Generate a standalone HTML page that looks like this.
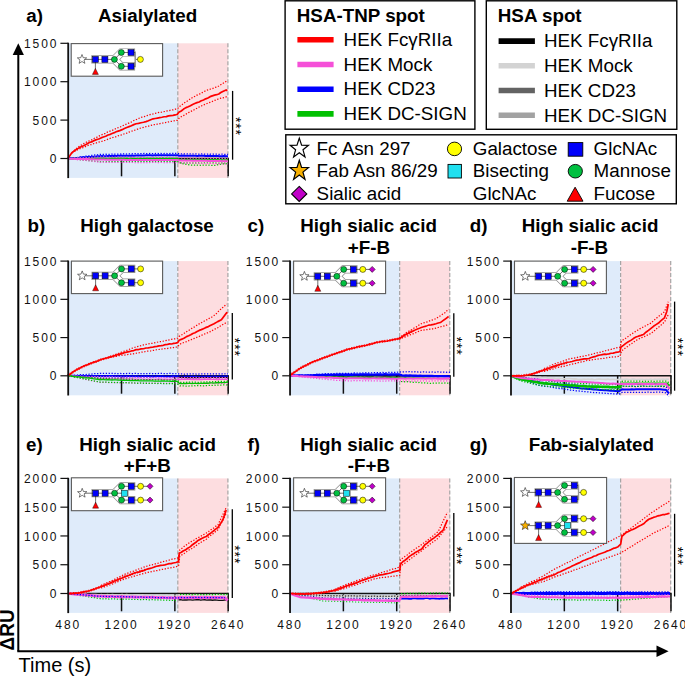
<!DOCTYPE html>
<html><head><meta charset="utf-8"><title>Figure</title>
<style>html,body{margin:0;padding:0;background:#fff;width:685px;height:676px;overflow:hidden}svg{display:block;font-family:"Liberation Sans",sans-serif}</style>
</head><body>
<svg width="685" height="676" viewBox="0 0 685 676" font-family="Liberation Sans, sans-serif"><rect width="685" height="676" fill="#fff"/>
<rect x="285.1" y="0.8" width="189.8" height="128.4" fill="none" stroke="#000" stroke-width="1.4"/>
<rect x="486.3" y="0.8" width="190.5" height="128.5" fill="none" stroke="#000" stroke-width="1.4"/>
<rect x="285.8" y="134.8" width="390.5" height="69" fill="none" stroke="#000" stroke-width="1.4"/>
<text transform="translate(296.8,21.9)" font-size="18.8" font-weight="bold">HSA-TNP spot</text>
<text transform="translate(497.8,21.9)" font-size="18.8" font-weight="bold">HSA spot</text>
<line x1="297.4" y1="39.8" x2="333.6" y2="39.8" stroke="#ff0000" stroke-width="5.6"/>
<text transform="translate(343.6,46)" font-size="18.8">HEK FcγRIIa</text>
<line x1="498.6" y1="41.1" x2="534.9" y2="41.1" stroke="#000" stroke-width="5.6"/>
<text transform="translate(544,47.4)" font-size="18.8">HEK FcγRIIa</text>
<line x1="297.4" y1="64.5" x2="333.6" y2="64.5" stroke="#f550d8" stroke-width="5.6"/>
<text transform="translate(343.6,70.7)" font-size="18.8">HEK Mock</text>
<line x1="498.6" y1="65.8" x2="534.9" y2="65.8" stroke="#d3d3d3" stroke-width="5.6"/>
<text transform="translate(544,72.1)" font-size="18.8">HEK Mock</text>
<line x1="297.4" y1="89.2" x2="333.6" y2="89.2" stroke="#0000ff" stroke-width="5.6"/>
<text transform="translate(343.6,95.4)" font-size="18.8">HEK CD23</text>
<line x1="498.6" y1="90.5" x2="534.9" y2="90.5" stroke="#636363" stroke-width="5.6"/>
<text transform="translate(544,96.8)" font-size="18.8">HEK CD23</text>
<line x1="297.4" y1="113.9" x2="333.6" y2="113.9" stroke="#00c000" stroke-width="5.6"/>
<text transform="translate(343.6,120.1)" font-size="18.8">HEK DC-SIGN</text>
<line x1="498.6" y1="115.2" x2="534.9" y2="115.2" stroke="#a2a2a2" stroke-width="5.6"/>
<text transform="translate(544,121.5)" font-size="18.8">HEK DC-SIGN</text>
<polygon points="299.3,138.1 301.6,145.1 308.5,145.29 303.01,149.8 304.99,156.91 299.3,152.7 293.61,156.91 295.59,149.8 290.1,145.29 297,145.1" fill="#fff" stroke="#000" stroke-width="1.2"/>
<polygon points="299.3,160.2 301.57,167.4 308.57,167.52 302.97,172.1 305.03,179.38 299.3,175 293.57,179.38 295.63,172.1 290.03,167.52 297.03,167.4" fill="#f8b000" stroke="#000" stroke-width="1.2"/>
<polygon points="299.2,186.4 306.8,193.9 299.2,201.4 291.6,193.9" fill="#c000c8" stroke="#000" stroke-width="1.1"/>
<text transform="translate(316.6,155.4)" font-size="18.8">Fc Asn 297</text>
<text transform="translate(316.6,177.3)" font-size="18.8">Fab Asn 86/29</text>
<text transform="translate(316.6,199.9)" font-size="18.8">Sialic acid</text>
<ellipse cx="454.5" cy="148.9" rx="7.1" ry="6.8" fill="#ffff00" stroke="#000" stroke-width="0.9"/>
<rect x="448" y="164.4" width="13.4" height="13.6" fill="#20e0f0" stroke="#000" stroke-width="0.9"/>
<text transform="translate(472.8,155)" font-size="18.8">Galactose</text>
<text transform="translate(472.8,176.6)" font-size="18.8">Bisecting</text>
<text transform="translate(472.8,199.6)" font-size="18.8">GlcNAc</text>
<rect x="568.2" y="142.6" width="14.6" height="13.6" fill="#0000fa" stroke="#000" stroke-width="0.9"/>
<ellipse cx="575.3" cy="171.2" rx="7.1" ry="6.8" fill="#00c040" stroke="#000" stroke-width="0.9"/>
<polygon points="575.1,187.2 583,201.2 567.2,201.2" fill="#ff0000" stroke="#000" stroke-width="0.9"/>
<text transform="translate(593.6,155)" font-size="18.8">GlcNAc</text>
<text transform="translate(593.6,176.6)" font-size="18.8">Mannose</text>
<text transform="translate(593.6,199.6)" font-size="18.8">Fucose</text>
<line x1="18.3" y1="52" x2="18.3" y2="651.3" stroke="#000" stroke-width="2"/>
<polygon points="12.7,55 18.3,43.3 23.9,55" fill="#000"/>
<line x1="17.3" y1="651.2" x2="658" y2="651.2" stroke="#000" stroke-width="2"/>
<polygon points="656.5,645.4 668.6,651.2 656.5,657" fill="#000"/>
<text transform="translate(14.1,650.4) scale(1.045,1) rotate(-90)" font-size="19" font-weight="bold">ΔRU</text>
<text transform="translate(18.6,671.6)" font-size="20">Time (s)</text>
<text transform="translate(26.3,21.6)" font-size="18.8" font-weight="bold">a)</text>
<text transform="translate(147.6,21.6)" font-size="18.8" font-weight="bold" text-anchor="middle">Asialylated</text>
<text transform="translate(27.6,231.8)" font-size="18.8" font-weight="bold">b)</text>
<text transform="translate(147,231.8)" font-size="18.8" font-weight="bold" text-anchor="middle">High galactose</text>
<text transform="translate(247.6,231.8)" font-size="18.8" font-weight="bold">c)</text>
<text transform="translate(368.6,231.8)" font-size="18.8" font-weight="bold" text-anchor="middle">High sialic acid</text>
<text transform="translate(368.9,254)" font-size="18.8" font-weight="bold" text-anchor="middle">+F-B</text>
<text transform="translate(469.8,231.8)" font-size="18.8" font-weight="bold">d)</text>
<text transform="translate(590,231.8)" font-size="18.8" font-weight="bold" text-anchor="middle">High sialic acid</text>
<text transform="translate(589.4,254)" font-size="18.8" font-weight="bold" text-anchor="middle">-F-B</text>
<text transform="translate(26,450.7)" font-size="18.8" font-weight="bold">e)</text>
<text transform="translate(147.6,450.7)" font-size="18.8" font-weight="bold" text-anchor="middle">High sialic acid</text>
<text transform="translate(147.3,472.4)" font-size="18.8" font-weight="bold" text-anchor="middle">+F+B</text>
<text transform="translate(247.6,450.7)" font-size="18.8" font-weight="bold">f)</text>
<text transform="translate(368.6,450.7)" font-size="18.8" font-weight="bold" text-anchor="middle">High sialic acid</text>
<text transform="translate(368.9,472.4)" font-size="18.8" font-weight="bold" text-anchor="middle">-F+B</text>
<text transform="translate(469.8,450.7)" font-size="18.8" font-weight="bold">g)</text>
<text transform="translate(591.3,450.7)" font-size="18.8" font-weight="bold" text-anchor="middle">Fab-sialylated</text>
<rect x="69" y="43.3" width="108.8" height="134.6" fill="#dfebfa" stroke="none" stroke-width="1"/>
<rect x="177.8" y="43.3" width="50.4" height="134.6" fill="#fddde0" stroke="none" stroke-width="1"/>
<line x1="177.8" y1="43.3" x2="177.8" y2="177.9" stroke="#a6a6a6" stroke-width="1.2" stroke-dasharray="4 2"/>
<line x1="227.9" y1="43.3" x2="227.9" y2="177.9" stroke="#a6a6a6" stroke-width="1.2" stroke-dasharray="4 2"/>
<line x1="68.2" y1="158.5" x2="228.8" y2="158.5" stroke="#111" stroke-width="1.4"/>
<line x1="121.53" y1="158.5" x2="121.53" y2="176.3" stroke="#111" stroke-width="1.5"/>
<line x1="174.86" y1="158.5" x2="174.86" y2="176.3" stroke="#111" stroke-width="1.5"/>
<line x1="228.19" y1="158.5" x2="228.19" y2="176.3" stroke="#111" stroke-width="1.5"/>
<polyline points="68.2,158.5 70.32,158.27 72.44,158.21 74.56,158 76.68,157.92 78.8,157.77 80.92,157.45 83.04,157.28 85.16,157.37 87.28,157.05 89.4,156.89 91.52,156.96 93.64,156.65 95.76,156.61 97.88,156.35 100,156.24 102,156.06 104,156.16 106,156.19 108,156.05 110,156.07 112,156.01 114,155.79 116,155.96 118,155.87 120,155.74 122,155.62 124,155.83 126,155.67 128,155.71 130,155.71 132,155.62 134,155.65 136,155.45 138,155.53 140,155.38 142.09,155.52 144.18,155.49 146.27,155.25 148.36,155.25 150.44,155.26 152.53,155.47 154.62,155.3 156.71,155.35 158.8,155.24 160.89,155.29 162.98,155.24 165.07,155.22 167.16,155.28 169.24,155.27 171.33,155.35 173.42,155.28 175.51,155.34 177.6,155.31 179,155.75 181.04,155.68 183.08,155.55 185.12,155.78 187.17,155.84 189.21,155.85 191.25,155.77 193.29,155.84 195.33,155.71 197.38,155.92 199.42,155.87 201.46,155.81 203.5,155.77 205.54,156.03 207.58,156.1 209.62,155.85 211.67,156.09 213.71,156 215.75,155.95 217.79,156.01 219.83,156.18 221.88,156.24 223.92,156.01 225.96,156.21 228,156.2" fill="none" stroke="#0000ff" stroke-width="2" stroke-linejoin="round"/>
<polyline points="68.2,158.5 70.32,158.09 72.44,158.02 74.56,157.63 76.68,157.52 78.8,157.28 80.92,156.86 83.04,156.74 85.16,156.26 87.28,155.91 89.4,155.8 91.52,155.35 93.64,155.13 95.76,154.92 97.88,154.71 100,154.3 102,154.22 104,154.43 106,154.22 108,154.38 110,154.32 112,154.12 114,154.11 116,154.09 118,154.08 120,154.03 122,153.98 124,153.96 126,154.01 128,153.84 130,153.78 132,153.83 134,153.64 136,153.62 138,153.78 140,153.61 142.09,153.6 144.18,153.43 146.27,153.54 148.36,153.58 150.44,153.4 152.53,153.57 154.62,153.56 156.71,153.38 158.8,153.54 160.89,153.48 162.98,153.53 165.07,153.42 167.16,153.52 169.24,153.52 171.33,153.29 173.42,153.29 175.51,153.46 177.6,153.54 179,153.73 181.04,153.81 183.08,153.88 185.12,153.82 187.17,153.86 189.21,153.87 191.25,153.91 193.29,154 195.33,153.94 197.38,153.99 199.42,154.13 201.46,153.93 203.5,154.12 205.54,154.2 207.58,154.09 209.62,154.09 211.67,154.29 213.71,154.15 215.75,154.16 217.79,154.26 219.83,154.36 221.88,154.21 223.92,154.3 225.96,154.33 228,154.4" fill="none" stroke="#0000ff" stroke-width="1.25" stroke-dasharray="1.3 1.6" stroke-linejoin="round" stroke-linecap="butt"/>
<polyline points="68.2,158.5 70.32,158.61 72.44,158.49 74.56,158.63 76.68,158.43 78.8,158.48 80.92,158.59 83.04,158.66 85.16,158.54 87.28,158.48 89.4,158.45 91.52,158.58 93.64,158.49 95.76,158.68 97.88,158.69 100,158.51 102,158.52 104,158.67 106,158.61 108,158.65 110,158.5 112,158.43 114,158.47 116,158.61 118,158.44 120,158.45 122,158.47 124,158.46 126,158.44 128,158.59 130,158.35 132,158.29 134,158.56 136,158.53 138,158.56 140,158.38 142.06,158.54 144.11,158.53 146.17,158.32 148.22,158.47 150.28,158.5 152.33,158.45 154.39,158.41 156.44,158.34 158.5,158.35 160.56,158.32 162.61,158.27 164.67,158.43 166.72,158.34 168.78,158.49 170.83,158.26 172.89,158.52 174.94,158.46 177,158.53 180,159.92 182,159.93 184,159.84 186,159.68 188,159.91 190,159.74 192,159.79 194,159.91 196,159.87 198,159.85 200,160.02 202,159.93 204,159.85 206,159.83 208,160.03 210,159.92 212,160.02 214,159.9 216,159.86 218,159.97 220,160.06 222,159.88 224,160.07 226,160.12 228,160" fill="none" stroke="#00c000" stroke-width="1.3" stroke-linejoin="round"/>
<polyline points="68.2,158.5 70.32,158.54 72.44,158.49 74.56,158.19 76.68,158.33 78.8,158.34 80.92,158.04 83.04,158.06 85.16,158 87.28,158.03 89.4,157.94 91.52,157.91 93.64,157.94 95.76,157.66 97.88,157.62 100,157.59 102,157.58 104,157.55 106,157.81 108,157.77 110,157.53 112,157.64 114,157.57 116,157.56 118,157.57 120,157.64 122,157.62 124,157.54 126,157.48 128,157.51 130,157.44 132,157.56 134,157.59 136,157.48 138,157.38 140,157.4 142.06,157.46 144.11,157.53 146.17,157.58 148.22,157.46 150.28,157.59 152.33,157.54 154.39,157.48 156.44,157.46 158.5,157.5 160.56,157.56 162.61,157.48 164.67,157.56 166.72,157.49 168.78,157.42 170.83,157.51 172.89,157.56 174.94,157.37 177,157.48 180,158.88 182,159.02 184,159.05 186,158.89 188,159.05 190,159.03 192,158.88 194,158.95 196,158.85 198,159.07 200,159.03 202,159.11 204,159.09 206,159.06 208,159.09 210,159.04 212,158.91 214,159.07 216,158.9 218,158.95 220,159.15 222,158.94 224,158.96 226,158.97 228,159.1" fill="none" stroke="#00c000" stroke-width="1.25" stroke-dasharray="1.3 1.6" stroke-linejoin="round" stroke-linecap="butt"/>
<polyline points="68.2,158.5 70.32,158.83 72.44,158.83 74.56,159 76.68,159.46 78.8,159.45 80.92,159.88 83.04,160.05 85.16,160.31 87.28,160.56 89.4,160.66 91.52,160.94 93.64,160.92 95.76,161.35 97.88,161.49 100,161.76 102,161.57 104,161.75 106,161.8 108,161.53 110,161.6 112,161.66 114,161.73 116,161.54 118,161.51 120,161.52 122,161.62 124,161.66 126,161.54 128,161.52 130,161.52 132,161.5 134,161.51 136,161.39 138,161.51 140,161.64 142.06,161.47 144.11,161.57 146.17,161.4 148.22,161.56 150.28,161.58 152.33,161.55 154.39,161.51 156.44,161.5 158.5,161.54 160.56,161.62 162.61,161.39 164.67,161.38 166.72,161.57 168.78,161.62 170.83,161.51 172.89,161.48 174.94,161.57 177,161.41 180,162.83 182,162.82 184,162.94 186,162.87 188,162.85 190,163 192,163.09 194,162.9 196,163.03 198,162.95 200,163.09 202,163.02 204,162.93 206,162.92 208,162.87 210,163.02 212,163 214,162.94 216,163.01 218,163 220,163.15 222,162.97 224,163.23 226,163.09 228,163.1" fill="none" stroke="#00c000" stroke-width="1.25" stroke-dasharray="1.3 1.6" stroke-linejoin="round" stroke-linecap="butt"/>
<polyline points="177,161.5 179.5,162.54 182,163.49 184,164.01 186,164.38 188,164.65 190,164.99 192.08,165.1 194.17,165.18 196.25,165.01 198.33,165.16 200.42,165.27 202.5,165.09 204.58,165.01 206.67,165.03 208.75,165.24 210.83,165.24 212.92,165.37 215,165.34 217,164.81 219,164.51 221,164.25 223,163.94 225,163.87 227,163.5" fill="none" stroke="#00c000" stroke-width="1.25" stroke-dasharray="1.3 1.6" stroke-linejoin="round" stroke-linecap="butt"/>
<polyline points="68.2,158.5 70.32,158.68 72.44,158.77 74.56,158.65 76.68,158.9 78.8,158.81 80.92,158.92 83.04,159.08 85.16,158.96 87.28,159.04 89.4,159.33 91.52,159.24 93.64,159.34 95.76,159.48 97.88,159.58 100,159.45 102,159.57 104,159.62 106,159.66 108,159.59 110,159.73 112,159.86 114,159.71 116,159.77 118,159.67 120,159.73 122,159.87 124,159.72 126,159.98 128,160 130,159.78 132,160.05 134,159.9 136,160.04 138,160.06 140,159.94 142.06,160.05 144.11,160.05 146.17,160.09 148.22,159.93 150.28,160.08 152.33,160.14 154.39,160.05 156.44,160.01 158.5,159.88 160.56,160 162.61,159.96 164.67,160.07 166.72,160.05 168.78,160.02 170.83,159.9 172.89,160.04 174.94,160.04 177,159.9 180,160.52 182,160.48 184,160.35 186,160.63 188,160.43 190,160.52 192,160.67 194,160.66 196,160.68 198,160.74 200,160.72 202,160.71 204,160.7 206,160.7 208,160.93 210,160.98 212,160.95 214,161.04 216,160.96 218,160.96 220,161.03 222,161.21 224,161 226,161.17 228,161.2" fill="none" stroke="#f550d8" stroke-width="2" stroke-linejoin="round"/>
<polyline points="68.2,158.5 70.32,158.32 72.44,158.38 74.56,158.16 76.68,158.05 78.8,157.97 80.92,157.91 83.04,157.88 85.16,157.66 87.28,157.7 89.4,157.38 91.52,157.33 93.64,157.18 95.76,157.08 97.88,157.18 100,157.07 102,156.93 104,156.95 106,157.03 108,157.15 110,157.19 112,157.19 114,157.17 116,157.05 118,157.15 120,157.11 122,157.23 124,157.26 126,157.17 128,157.21 130,157.38 132,157.18 134,157.43 136,157.48 138,157.51 140,157.36 142.06,157.42 144.11,157.42 146.17,157.44 148.22,157.54 150.28,157.46 152.33,157.34 154.39,157.51 156.44,157.4 158.5,157.43 160.56,157.47 162.61,157.25 164.67,157.48 166.72,157.45 168.78,157.4 170.83,157.41 172.89,157.39 174.94,157.31 177,157.41 180,157.66 182,157.83 184,157.91 186,157.88 188,157.95 190,158.1 192,158.12 194,157.92 196,158.15 198,158.14 200,158 202,158.12 204,158.12 206,158.11 208,158.28 210,158.43 212,158.28 214,158.48 216,158.46 218,158.32 220,158.57 222,158.53 224,158.66 226,158.63 228,158.6" fill="none" stroke="#f550d8" stroke-width="1.25" stroke-dasharray="1.3 1.6" stroke-linejoin="round" stroke-linecap="butt"/>
<polyline points="68.2,158.5 70.32,158.82 72.44,158.95 74.56,159.33 76.68,159.62 78.8,159.84 80.92,159.96 83.04,160.3 85.16,160.47 87.28,160.6 89.4,160.83 91.52,161.09 93.64,161.37 95.76,161.6 97.88,161.95 100,162.26 102,162.23 104,162.22 106,162.3 108,162.22 110,162.29 112,162.4 114,162.31 116,162.26 118,162.5 120,162.47 122,162.38 124,162.4 126,162.47 128,162.51 130,162.42 132,162.37 134,162.45 136,162.64 138,162.47 140,162.59 142.06,162.51 144.11,162.51 146.17,162.5 148.22,162.57 150.28,162.5 152.33,162.46 154.39,162.48 156.44,162.5 158.5,162.6 160.56,162.47 162.61,162.46 164.67,162.58 166.72,162.57 168.78,162.66 170.83,162.47 172.89,162.57 174.94,162.57 177,162.46 180,163.14 182,162.95 184,162.94 186,163.09 188,163.03 190,163.2 192,163.15 194,163.12 196,163.13 198,163.37 200,163.27 202,163.45 204,163.39 206,163.56 208,163.41 210,163.42 212,163.46 214,163.66 216,163.64 218,163.59 220,163.54 222,163.75 224,163.87 226,163.79 228,163.8" fill="none" stroke="#f550d8" stroke-width="1.25" stroke-dasharray="1.3 1.6" stroke-linejoin="round" stroke-linecap="butt"/>
<polyline points="71.8,152.6 74.75,149.85 77.7,147.31 80.6,145.49 83.5,143.67 85.69,142.51 87.88,141.42 90.06,140.56 92.25,139.56 94.44,138.18 96.62,137.39 98.81,136.09 101,135.12 103.13,134.27 105.25,133.38 107.38,132.11 109.51,131.32 111.64,130.54 113.76,129.78 115.89,128.54 118.02,127.72 120.15,127.04 122.27,125.85 124.4,125.06 126.63,123.98 128.86,123.06 131.09,122.1 133.31,120.74 135.54,119.91 137.77,118.85 140,117.83 142.18,117.07 144.37,116.57 146.55,115.7 148.73,115.07 150.92,114.34 153.1,113.91 155.12,113.38 157.15,112.89 159.18,112.44 161.2,112.25 163.22,111.8 165.25,111.43 167.28,110.9 169.3,110.53 171.32,109.99 173.35,109.8 175.38,109.12 177.4,108.89 179.4,106.6 181.6,105.04 183.8,103.27 186,101.79 188.2,100.5 190.4,98.89 192.6,97.45 194.78,96.37 196.97,95.11 199.15,94.21 201.33,93.06 203.52,91.82 205.7,90.75 207.88,89.86 210.07,89.23 212.25,88.68 214.43,87.58 216.62,86.99 218.8,86.04 221.43,84.27 224.07,82.73 226.7,80.9" fill="none" stroke="#ff0000" stroke-width="1.25" stroke-dasharray="1.3 1.6" stroke-linejoin="round" stroke-linecap="butt"/>
<polyline points="71.8,153 74.75,151.3 77.7,149.62 80.04,148.7 82.38,147.94 84.72,146.95 87.06,145.76 89.4,144.89 91.72,144.49 94.04,143.49 96.36,142.92 98.68,142.17 101,141.61 103.13,140.85 105.25,140.23 107.38,139.44 109.51,138.61 111.64,137.92 113.76,137.19 115.89,136.79 118.02,135.82 120.15,135.09 122.27,134.78 124.4,133.78 126.63,133.24 128.86,132.11 131.09,131.44 133.31,130.53 135.54,129.96 137.77,129.06 140,128.26 142.18,127.75 144.37,127.25 146.55,126.49 148.73,126.04 150.92,125.43 153.1,124.74 155.12,124.65 157.15,124.17 159.18,123.88 161.2,123.25 163.22,123 165.25,122.59 167.28,122.31 169.3,121.66 171.32,121.39 173.35,121.06 175.38,120.51 177.4,120.32 179.4,117.79 181.6,116.47 183.8,115.36 186,114.14 188.2,112.79 190.4,111.64 192.6,110.7 194.78,109.33 196.97,108.27 199.15,107.03 201.33,105.99 203.52,104.87 205.7,104.07 207.88,103.12 210.07,102.32 212.25,101.49 214.43,100.48 216.62,99.74 218.8,98.71 221.43,98 224.07,97.55 226.7,96.7" fill="none" stroke="#ff0000" stroke-width="1.25" stroke-dasharray="1.3 1.6" stroke-linejoin="round" stroke-linecap="butt"/>
<polyline points="67.8,158.4 69.8,155.7 71.8,152.82 74.75,150.54 77.7,148.64 80.6,146.95 83.5,145.75 86.45,144.26 89.4,142.5 91.72,141.9 94.04,140.6 96.36,139.64 98.68,139.03 101,137.9 103.34,137.07 105.68,136.19 108.02,134.95 110.36,134.36 112.7,133.19 115.04,132.33 117.38,131.34 119.72,130.6 122.06,129.66 124.4,128.49 126.74,127.46 129.08,126.62 131.42,125.74 133.76,124.63 136.1,123.73 138.57,123.41 141.05,122.75 143.53,122.26 146,121.64 148.37,120.79 150.73,119.74 153.1,118.83 155.3,118.47 157.5,118.11 159.7,117.71 161.9,117.29 164.1,116.76 166.3,116.58 168.52,115.89 170.74,115.58 172.96,115.39 175.18,114.95 177.4,114.3 178.8,112.27 181.2,111.02 183.6,109.09 186,107.62 188.2,106.75 190.4,105.68 192.6,104.43 194.77,103.48 196.93,102.65 199.1,102.03 201.3,100.82 203.5,100.01 205.7,98.84 207.9,98.04 210.1,96.67 212.3,95.84 214.47,95.12 216.63,94.7 218.8,94.02 220.8,92.53 222.8,91.42 226.1,89.9 227.3,90.8" fill="none" stroke="#ff0000" stroke-width="1.7" stroke-linejoin="round"/>
<line x1="68.2" y1="42.7" x2="68.2" y2="178.1" stroke="#111" stroke-width="1.8"/>
<line x1="60.4" y1="158.5" x2="68.2" y2="158.5" stroke="#111" stroke-width="1.2"/>
<text transform="translate(58.3,163.1)" font-size="12" text-anchor="end" letter-spacing="1.9" fill="#111">0</text>
<line x1="60.4" y1="120.1" x2="68.2" y2="120.1" stroke="#111" stroke-width="1.2"/>
<text transform="translate(58.3,124.7)" font-size="12" text-anchor="end" letter-spacing="1.9" fill="#111">500</text>
<line x1="60.4" y1="81.7" x2="68.2" y2="81.7" stroke="#111" stroke-width="1.2"/>
<text transform="translate(58.3,86.3)" font-size="12" text-anchor="end" letter-spacing="1.9" fill="#111">1000</text>
<line x1="60.4" y1="43.3" x2="68.2" y2="43.3" stroke="#111" stroke-width="1.2"/>
<text transform="translate(58.3,47.9)" font-size="12" text-anchor="end" letter-spacing="1.9" fill="#111">1500</text>
<rect x="71.2" y="43.6" width="91.4" height="32.6" fill="#fff" stroke="#5a5a5a" stroke-width="1.1"/>
<path d="M95.4 59.4L114.4 59.4L121.3 52.5L131 52.5M95.4 59.4L114.4 59.4L121.3 66.3L131 66.3" fill="none" stroke="#8c8c8c" stroke-width="8.2" stroke-linecap="square" stroke-linejoin="miter"/>
<path d="M95.4 59.4L114.4 59.4L121.3 52.5L131 52.5M95.4 59.4L114.4 59.4L121.3 66.3L131 66.3" fill="none" stroke="#fff" stroke-width="6.8" stroke-linecap="square" stroke-linejoin="miter"/>
<path d="M82 59.4L95.4 59.4M95.4 59.4L114.4 59.4M114.4 59.4L121.3 52.5M114.4 59.4L121.3 66.3M121.3 52.5L131 52.5M121.3 66.3L131 66.3M95.4 59.4L95.4 70.9M131 52.5L135.2 52.5M131 66.3L135.2 66.3M135.2 52.5L135.2 66.3M135.2 59.4L140.4 59.4" fill="none" stroke="#333" stroke-width="0.7"/>
<line x1="135.4" y1="51.5" x2="135.4" y2="67.3" stroke="#999" stroke-width="1.2"/>
<polygon points="82,54.5 83.23,57.7 86.66,57.89 84,60.05 84.88,63.36 82,61.5 79.12,63.36 80,60.05 77.34,57.89 80.77,57.7" fill="#fff" stroke="#222" stroke-width="0.6"/>
<rect x="92.4" y="56.4" width="6" height="6" fill="#0000fa" stroke="#000" stroke-width="0.5"/>
<rect x="101.9" y="56.4" width="6" height="6" fill="#0000fa" stroke="#000" stroke-width="0.5"/>
<circle cx="114.4" cy="59.4" r="3" fill="#00c040" stroke="#000" stroke-width="0.5"/>
<circle cx="121.3" cy="52.5" r="3" fill="#00c040" stroke="#000" stroke-width="0.5"/>
<circle cx="121.3" cy="66.3" r="3" fill="#00c040" stroke="#000" stroke-width="0.5"/>
<rect x="128" y="49.5" width="6" height="6" fill="#0000fa" stroke="#000" stroke-width="0.5"/>
<rect x="128" y="63.3" width="6" height="6" fill="#0000fa" stroke="#000" stroke-width="0.5"/>
<polygon points="95.4,68.4 98.4,74.4 92.4,74.4" fill="#ff0000" stroke="#000" stroke-width="0.4"/>
<circle cx="140.4" cy="59.4" r="3" fill="#ffff00" stroke="#000" stroke-width="0.5"/>
<line x1="232.6" y1="90.9" x2="232.6" y2="159.7" stroke="#000" stroke-width="1.3"/>
<text transform="translate(230.6,126.4) rotate(90)" font-size="14" text-anchor="middle" letter-spacing="0.85">***</text>
<rect x="69" y="261.1" width="108.8" height="134.2" fill="#dfebfa" stroke="none" stroke-width="1"/>
<rect x="177.8" y="261.1" width="50.4" height="134.2" fill="#fddde0" stroke="none" stroke-width="1"/>
<line x1="177.8" y1="261.1" x2="177.8" y2="395.3" stroke="#a6a6a6" stroke-width="1.2" stroke-dasharray="4 2"/>
<line x1="227.9" y1="261.1" x2="227.9" y2="395.3" stroke="#a6a6a6" stroke-width="1.2" stroke-dasharray="4 2"/>
<line x1="68.2" y1="375.8" x2="228.8" y2="375.8" stroke="#111" stroke-width="1.4"/>
<line x1="121.53" y1="375.8" x2="121.53" y2="393.7" stroke="#111" stroke-width="1.5"/>
<line x1="174.86" y1="375.8" x2="174.86" y2="393.7" stroke="#111" stroke-width="1.5"/>
<line x1="228.19" y1="375.8" x2="228.19" y2="393.7" stroke="#111" stroke-width="1.5"/>
<polyline points="68.2,375.8 70.32,375.76 72.44,375.75 74.56,375.93 76.68,375.83 78.8,375.79 80.92,375.74 83.04,375.87 85.16,375.94 87.28,375.97 89.4,376.06 91.52,376.04 93.64,375.88 95.76,375.86 97.88,376.06 100,376.09 102,376.01 104,376.12 106,376.05 108,375.97 110,375.95 112,375.92 114,376.11 116,376.2 118,376.21 120,376.09 122,376.16 124,376.25 126,376.22 128,376.17 130,376.12 132,376.17 134,376.07 136,376.08 138,376.25 140,376.35 142.09,376.21 144.18,376.17 146.27,376.16 148.36,376.19 150.44,376.29 152.53,376.19 154.62,376.34 156.71,376.1 158.8,376.14 160.89,376.21 162.98,376.17 165.07,376.31 167.16,376.3 169.24,376.33 171.33,376.23 173.42,376.06 175.51,376.22 177.6,376.21 180,376.6 182,376.53 184,376.65 186,376.7 188,376.45 190,376.61 192,376.51 194,376.55 196,376.65 198,376.66 200,376.56 202,376.42 204,376.63 206,376.4 208,376.45 210,376.57 212,376.41 214,376.39 216,376.58 218,376.57 220,376.38 222,376.39 224,376.35 226,376.3 228,376.4" fill="none" stroke="#0000ff" stroke-width="1.8" stroke-linejoin="round"/>
<polyline points="68.2,375.8 70.32,375.57 72.44,375.62 74.56,375.19 76.68,375.08 78.8,374.91 80.92,374.71 83.04,374.69 85.16,374.59 87.28,374.46 89.4,374.24 91.52,374.14 93.64,373.73 95.76,373.65 97.88,373.7 100,373.27 102,373.34 104,373.41 106,373.36 108,373.45 110,373.31 112,373.38 114,373.61 116,373.37 118,373.61 120,373.4 122,373.66 124,373.57 126,373.57 128,373.43 130,373.42 132,373.64 134,373.47 136,373.49 138,373.69 140,373.71 142.09,373.46 144.18,373.74 146.27,373.61 148.36,373.56 150.44,373.48 152.53,373.57 154.62,373.75 156.71,373.53 158.8,373.49 160.89,373.49 162.98,373.49 165.07,373.56 167.16,373.72 169.24,373.47 171.33,373.51 173.42,373.73 175.51,373.75 177.6,373.74 180,373.92 182,373.95 184,374.12 186,373.97 188,374.03 190,373.9 192,373.81 194,373.9 196,374.01 198,374.01 200,373.94 202,373.9 204,373.91 206,373.87 208,373.89 210,373.97 212,373.78 214,373.89 216,373.98 218,373.95 220,373.74 222,373.96 224,373.92 226,373.71 228,373.8" fill="none" stroke="#0000ff" stroke-width="1.25" stroke-dasharray="1.3 1.6" stroke-linejoin="round" stroke-linecap="butt"/>
<polyline points="68.2,375.8 70.32,375.82 72.44,375.9 74.56,375.95 76.68,376.32 78.8,376.24 80.92,376.47 83.04,376.34 85.16,376.4 87.28,376.75 89.4,376.82 91.52,376.97 93.64,376.98 95.76,377.02 97.88,377.19 100,377.08 102,377.22 104,377.2 106,377.12 108,377.27 110,377.2 112,377.26 114,377.23 116,377.23 118,377.25 120,377.33 122,377.45 124,377.45 126,377.44 128,377.44 130,377.29 132,377.5 134,377.3 136,377.27 138,377.39 140,377.47 142.09,377.35 144.18,377.44 146.27,377.33 148.36,377.54 150.44,377.39 152.53,377.39 154.62,377.41 156.71,377.51 158.8,377.55 160.89,377.41 162.98,377.38 165.07,377.44 167.16,377.27 169.24,377.38 171.33,377.5 173.42,377.48 175.51,377.27 177.6,377.51 180,377.77 182,377.94 184,377.74 186,377.69 188,377.78 190,377.87 192,377.73 194,377.85 196,377.8 198,377.68 200,377.66 202,377.71 204,377.67 206,377.65 208,377.73 210,377.79 212,377.69 214,377.55 216,377.57 218,377.6 220,377.67 222,377.52 224,377.49 226,377.55 228,377.6" fill="none" stroke="#0000ff" stroke-width="1.25" stroke-dasharray="1.3 1.6" stroke-linejoin="round" stroke-linecap="butt"/>
<polyline points="177.8,377.4 179.81,377.28 181.82,377.13 183.82,377.45 185.83,377.68 187.84,377.46 189.85,377.59 191.86,377.65 193.86,377.67 195.87,377.72 197.88,377.44 199.89,377.6 201.9,377.27 203.9,377.73 205.91,377.44 207.92,377.51 209.93,377.76 211.94,377.41 213.94,377.36 215.95,377.75 217.96,377.62 219.97,377.32 221.98,377.29 223.98,377.49 225.99,377.3 228,377.6" fill="none" stroke="#111" stroke-width="1.2" stroke-linejoin="round"/>
<polyline points="68.2,375.8 70.32,376.09 72.44,376.08 74.56,376.29 76.68,376.51 78.8,376.74 80.92,376.9 83.04,377.15 85.16,377.34 87.28,377.46 89.4,377.55 91.52,378 93.64,378.1 95.76,378.1 97.88,378.4 100,378.68 102,378.78 104,378.53 106,378.54 108,378.71 110,378.73 112,378.9 114,378.91 116,378.79 118,378.85 120,378.92 122,379.05 124,378.87 126,378.96 128,378.9 130,379.09 132,378.94 134,379.24 136,379.15 138,379.19 140,379.08 142.09,379.13 144.18,379.21 146.27,379.34 148.36,379.26 150.44,379.19 152.53,379.41 154.62,379.33 156.71,379.3 158.8,379.21 160.89,379.25 162.98,379.44 165.07,379.22 167.16,379.35 169.24,379.39 171.33,379.32 173.42,379.46 175.51,379.51 177.6,379.51 179.62,379.47 181.63,379.31 183.65,379.27 185.66,379.38 187.68,379.34 189.7,379.31 191.71,379.51 193.73,379.31 195.74,379.5 197.76,379.53 199.78,379.29 201.79,379.52 203.81,379.37 205.82,379.31 207.84,379.31 209.86,379.26 211.87,379.4 213.89,379.37 215.9,379.51 217.92,379.5 219.94,379.27 221.95,379.37 223.97,379.37 225.98,379.3 228,379.4" fill="none" stroke="#f550d8" stroke-width="1.4" stroke-linejoin="round"/>
<polyline points="68.2,375.8 70.32,375.79 72.44,375.86 74.56,376.06 76.68,376.02 78.8,376.02 80.92,376.12 83.04,376.25 85.16,376.35 87.28,376.32 89.4,376.53 91.52,376.45 93.64,376.65 95.76,376.7 97.88,376.64 100,376.88 102,376.8 104,376.87 106,376.92 108,376.96 110,376.93 112,376.85 114,377.1 116,377.15 118,377.07 120,377.12 122,377.06 124,377.28 126,377.25 128,377.14 130,377.35 132,377.43 134,377.26 136,377.49 138,377.36 140,377.3 142.09,377.48 144.18,377.37 146.27,377.5 148.36,377.47 150.44,377.34 152.53,377.48 154.62,377.58 156.71,377.48 158.8,377.51 160.89,377.62 162.98,377.51 165.07,377.53 167.16,377.57 169.24,377.65 171.33,377.48 173.42,377.46 175.51,377.67 177.6,377.62 179.62,377.54 181.63,377.72 183.65,377.72 185.66,377.61 187.68,377.75 189.7,377.7 191.71,377.67 193.73,377.54 195.74,377.45 197.76,377.65 199.78,377.67 201.79,377.56 203.81,377.59 205.82,377.62 207.84,377.52 209.86,377.66 211.87,377.62 213.89,377.57 215.9,377.48 217.92,377.62 219.94,377.55 221.95,377.67 223.97,377.5 225.98,377.57 228,377.6" fill="none" stroke="#f550d8" stroke-width="1.25" stroke-dasharray="1.3 1.6" stroke-linejoin="round" stroke-linecap="butt"/>
<polyline points="68.2,375.8 70.32,376.15 72.44,376.65 74.56,377.14 76.68,377.44 78.8,377.87 80.92,378.43 83.04,378.79 85.16,379.32 87.28,379.66 89.4,380.08 91.52,380.65 93.64,381.21 95.76,381.63 97.88,381.96 100,382.37 102,382.3 104,382.39 106,382.43 108,382.65 110,382.44 112,382.71 114,382.6 116,382.62 118,382.6 120,382.84 122,382.64 124,382.78 126,382.79 128,382.73 130,382.77 132,383.03 134,383 136,383.01 138,383.09 140,382.88 142.09,383.07 144.18,383.1 146.27,382.95 148.36,383.03 150.44,383.2 152.53,383.01 154.62,383.16 156.71,382.99 158.8,383.15 160.89,383.04 162.98,383.12 165.07,383.1 167.16,383.26 169.24,383.23 171.33,383.17 173.42,383.23 175.51,383.17 177.6,383.29 179.62,383.13 181.63,383.21 183.65,383.23 185.66,383.17 187.68,383.06 189.7,383.1 191.71,383.24 193.73,383.11 195.74,383.28 197.76,383.2 199.78,383.34 201.79,383.3 203.81,383.27 205.82,383.16 207.84,383.06 209.86,383.22 211.87,383.27 213.89,383.33 215.9,383.11 217.92,383.1 219.94,383.34 221.95,383.27 223.97,383.2 225.98,383.27 228,383.2" fill="none" stroke="#f550d8" stroke-width="1.25" stroke-dasharray="1.3 1.6" stroke-linejoin="round" stroke-linecap="butt"/>
<polyline points="68.2,375.8 70.32,375.95 72.44,376.32 74.56,376.61 76.68,376.84 78.8,376.97 80.92,377.21 83.04,377.61 85.16,377.94 87.28,377.97 89.4,378.19 91.52,378.46 93.64,378.93 95.76,379.06 97.88,379.33 100,379.75 102,379.69 104,379.65 106,379.84 108,379.69 110,379.83 112,380.02 114,379.92 116,379.94 118,380.15 120,380.15 122,380.4 124,380.2 126,380.47 128,380.41 130,380.59 132,380.54 134,380.67 136,380.63 138,380.66 140,380.79 142.07,380.92 144.13,380.82 146.2,380.82 148.27,380.91 150.33,380.85 152.4,380.94 154.47,381.06 156.53,381.08 158.6,381.13 160.67,381.07 162.73,381.02 164.8,381.06 166.87,381.19 168.93,381.18 171,381.32 173.07,381.26 175.13,381.45 177.2,381.43 180,383.65 182,383.65 184,383.57 186,383.52 188,383.46 190,383.37 192,383.57 194,383.46 196,383.32 198,383.55 200,383.42 202,383.37 204,383.24 206,383.07 208,383.26 210,382.94 212,382.93 214,383.05 216,382.72 218,382.76 220,382.68 222,382.54 224,382.67 226,382.45 228,382.4" fill="none" stroke="#00c000" stroke-width="1.3" stroke-linejoin="round"/>
<polyline points="68.2,375.8 70.32,375.83 72.44,376.14 74.56,376.17 76.68,376.56 78.8,376.78 80.92,376.96 83.04,376.88 85.16,377.24 87.28,377.3 89.4,377.53 91.52,377.65 93.64,377.82 95.76,377.94 97.88,378.26 100,378.28 102,378.6 104,378.38 106,378.72 108,378.55 110,378.58 112,378.83 114,378.83 116,378.96 118,378.94 120,379.04 122,378.93 124,379.17 126,379.18 128,379.38 130,379.15 132,379.23 134,379.47 136,379.61 138,379.52 140,379.66 142.07,379.65 144.13,379.63 146.2,379.69 148.27,379.76 150.33,379.63 152.4,379.74 154.47,379.9 156.53,379.79 158.6,379.89 160.67,379.86 162.73,379.92 164.8,380.05 166.87,380.11 168.93,380.2 171,380.09 173.07,380.04 175.13,380.12 177.2,380.07 180,382.32 182,382.41 184,382.39 186,382.26 188,382.22 190,382.18 192,382.18 194,382.26 196,382.17 198,382.34 200,382.22 202,382.08 204,382.04 206,381.85 208,381.98 210,381.92 212,381.73 214,381.77 216,381.56 218,381.47 220,381.4 222,381.32 224,381.37 226,381.31 228,381.2" fill="none" stroke="#00c000" stroke-width="1.25" stroke-dasharray="1.3 1.6" stroke-linejoin="round" stroke-linecap="butt"/>
<polyline points="68.2,375.8 70.32,376.28 72.44,376.51 74.56,377.12 76.68,377.45 78.8,377.83 80.92,378.28 83.04,378.67 85.16,379.02 87.28,379.49 89.4,379.98 91.52,380.41 93.64,380.88 95.76,381.08 97.88,381.7 100,382.09 102,382.12 104,382.26 106,382.07 108,382.32 110,382.42 112,382.25 114,382.45 116,382.61 118,382.48 120,382.71 122,382.78 124,382.7 126,382.67 128,382.75 130,383 132,382.94 134,382.96 136,383.06 138,383.27 140,383.13 142.07,383.09 144.13,383.4 146.2,383.25 148.27,383.3 150.33,383.51 152.4,383.33 154.47,383.31 156.53,383.58 158.6,383.42 160.67,383.45 162.73,383.7 164.8,383.52 166.87,383.75 168.93,383.62 171,383.64 173.07,383.65 175.13,383.78 177.2,383.82 180,385.97 182,385.98 184,385.9 186,386.04 188,386.05 190,385.98 192,385.98 194,385.73 196,385.77 198,385.73 200,385.7 202,385.87 204,385.78 206,385.71 208,385.53 210,385.33 212,385.35 214,385.17 216,385.35 218,385.09 220,385.02 222,385.15 224,384.85 226,385 228,384.8" fill="none" stroke="#00c000" stroke-width="1.25" stroke-dasharray="1.3 1.6" stroke-linejoin="round" stroke-linecap="butt"/>
<polyline points="110,356.6 112.15,355.7 114.3,355.02 116.45,353.97 118.6,353.46 120.79,352.46 122.97,351.64 125.16,350.96 127.35,350.14 129.54,349.2 131.72,348.35 133.91,347.73 136.1,346.71 138.57,346.45 141.05,345.64 143.53,344.97 146,344.43 148.11,343.93 150.23,343.59 152.34,343.26 154.45,342.78 156.57,342.33 158.68,341.9 160.79,341.55 162.91,341.25 165.02,340.7 167.13,340.41 169.25,339.87 171.36,339.31 173.47,338.91 175.59,338.76 177.7,338.19 179.2,336.35 181.2,335.16 183.2,334.04 185.2,332.6 187.2,331.34 189.2,330.1 191.2,328.7 193.2,327.67 195.2,326.39 197.2,325.15 199.2,323.88 201.31,322.72 203.43,321.64 205.54,320.26 207.66,319.41 209.77,317.89 211.89,317.02 214,315.57 216.1,313.85 218.2,311.67 220.3,309.63 222.4,307.85 224.5,306 226.6,303.9" fill="none" stroke="#ff0000" stroke-width="1.25" stroke-dasharray="1.3 1.6" stroke-linejoin="round" stroke-linecap="butt"/>
<polyline points="110,357.2 112.06,357.02 114.11,356.72 116.17,356.45 118.23,355.76 120.29,355.58 122.34,355.16 124.4,355.1 126.56,354.63 128.72,354.4 130.88,354.07 133.04,353.8 135.2,353.32 137.36,353.05 139.52,352.57 141.68,352.03 143.84,352.01 146,351.34 148.11,351.02 150.23,351.01 152.34,350.47 154.45,350.31 156.57,349.74 158.68,349.5 160.79,349.39 162.91,348.81 165.02,348.68 167.13,348.54 169.25,347.94 171.36,347.82 173.47,347.52 175.59,347.16 177.7,346.91 179.2,344.58 181.2,343.5 183.2,342.76 185.2,342.08 187.2,341.45 189.2,340.34 191.2,339.67 193.2,338.68 195.2,338.16 197.2,337.19 199.2,336.41 201.31,335.52 203.43,334.37 205.54,333.66 207.66,332.75 209.77,331.83 211.89,330.66 214,329.69 216.1,328.43 218.2,327.49 220.3,326.08 222.4,324.82 224.5,323.64 226.6,322.4" fill="none" stroke="#ff0000" stroke-width="1.25" stroke-dasharray="1.3 1.6" stroke-linejoin="round" stroke-linecap="butt"/>
<polyline points="67.8,375.5 70.28,373.97 72.75,372.16 75.22,370.54 77.7,369.13 80.04,368.1 82.38,366.82 84.72,365.67 87.06,365.05 89.4,363.91 91.72,363.03 94.04,362.11 96.36,361.57 98.68,360.49 101,359.56 103.34,358.8 105.68,358.23 108.02,357.65 110.36,356.83 112.7,356.42 115.04,355.57 117.38,354.78 119.72,354.18 122.06,353.45 124.4,352.76 126.74,352.12 129.08,351.55 131.42,350.96 133.76,350.55 136.1,349.65 138.57,349.54 141.05,348.9 143.53,348.77 146,347.99 148.2,347.84 150.4,347.47 152.6,347.26 154.8,346.65 156.91,346.3 159.03,345.85 161.14,345.67 163.26,345.3 165.37,344.62 167.49,344.32 169.6,343.95 171.62,343.98 173.65,343.38 175.67,343.08 177.7,342.59 179.2,340.18 181.8,339.16 184.4,337.99 186.51,336.59 188.63,335.76 190.74,334.72 192.86,333.44 194.97,332.76 197.09,331.47 199.2,330.4 201.31,329.62 203.43,328.66 205.54,327.67 207.66,326.91 209.77,325.8 211.89,324.76 214,323.68 217.7,321.63 221.4,319.83 224.4,315.72 226.6,312.72 227.4,313.5" fill="none" stroke="#ff0000" stroke-width="1.7" stroke-linejoin="round"/>
<polyline points="67.8,375.5 77.7,369 89.4,363.8 101,359.7 112.7,356.2 124.4,352.7" fill="none" stroke="#ff0000" stroke-width="2.4" stroke-dasharray="1.0 1.6" stroke-linejoin="round" stroke-linecap="butt"/>
<line x1="68.2" y1="260.5" x2="68.2" y2="395.5" stroke="#111" stroke-width="1.8"/>
<line x1="60.4" y1="375.8" x2="68.2" y2="375.8" stroke="#111" stroke-width="1.2"/>
<text transform="translate(58.3,380.4)" font-size="12" text-anchor="end" letter-spacing="1.9" fill="#111">0</text>
<line x1="60.4" y1="337.57" x2="68.2" y2="337.57" stroke="#111" stroke-width="1.2"/>
<text transform="translate(58.3,342.17)" font-size="12" text-anchor="end" letter-spacing="1.9" fill="#111">500</text>
<line x1="60.4" y1="299.33" x2="68.2" y2="299.33" stroke="#111" stroke-width="1.2"/>
<text transform="translate(58.3,303.93)" font-size="12" text-anchor="end" letter-spacing="1.9" fill="#111">1000</text>
<line x1="60.4" y1="261.1" x2="68.2" y2="261.1" stroke="#111" stroke-width="1.2"/>
<text transform="translate(58.3,265.7)" font-size="12" text-anchor="end" letter-spacing="1.9" fill="#111">1500</text>
<rect x="71.4" y="261.1" width="91.2" height="32.5" fill="#fff" stroke="#5a5a5a" stroke-width="1.1"/>
<path d="M95.6 275.8L114.6 275.8L121.5 268.9L131.2 268.9M95.6 275.8L114.6 275.8L121.5 282.7L131.2 282.7" fill="none" stroke="#8c8c8c" stroke-width="8.2" stroke-linecap="square" stroke-linejoin="miter"/>
<path d="M95.6 275.8L114.6 275.8L121.5 268.9L131.2 268.9M95.6 275.8L114.6 275.8L121.5 282.7L131.2 282.7" fill="none" stroke="#fff" stroke-width="6.8" stroke-linecap="square" stroke-linejoin="miter"/>
<path d="M82.2 275.8L95.6 275.8M95.6 275.8L114.6 275.8M114.6 275.8L121.5 268.9M114.6 275.8L121.5 282.7M121.5 268.9L131.2 268.9M121.5 282.7L131.2 282.7M95.6 275.8L95.6 287.3M131.2 268.9L140.6 268.9M131.2 282.7L140.6 282.7" fill="none" stroke="#333" stroke-width="0.7"/>
<polygon points="82.2,270.9 83.43,274.1 86.86,274.29 84.2,276.45 85.08,279.76 82.2,277.9 79.32,279.76 80.2,276.45 77.54,274.29 80.97,274.1" fill="#fff" stroke="#222" stroke-width="0.6"/>
<rect x="92.6" y="272.8" width="6" height="6" fill="#0000fa" stroke="#000" stroke-width="0.5"/>
<rect x="102.1" y="272.8" width="6" height="6" fill="#0000fa" stroke="#000" stroke-width="0.5"/>
<circle cx="114.6" cy="275.8" r="3" fill="#00c040" stroke="#000" stroke-width="0.5"/>
<circle cx="121.5" cy="268.9" r="3" fill="#00c040" stroke="#000" stroke-width="0.5"/>
<circle cx="121.5" cy="282.7" r="3" fill="#00c040" stroke="#000" stroke-width="0.5"/>
<rect x="128.2" y="265.9" width="6" height="6" fill="#0000fa" stroke="#000" stroke-width="0.5"/>
<rect x="128.2" y="279.7" width="6" height="6" fill="#0000fa" stroke="#000" stroke-width="0.5"/>
<polygon points="95.6,284.8 98.6,290.8 92.6,290.8" fill="#ff0000" stroke="#000" stroke-width="0.4"/>
<circle cx="140.6" cy="268.9" r="3" fill="#ffff00" stroke="#000" stroke-width="0.5"/>
<circle cx="140.6" cy="282.7" r="3" fill="#ffff00" stroke="#000" stroke-width="0.5"/>
<line x1="232.3" y1="313" x2="232.3" y2="379.4" stroke="#000" stroke-width="1.3"/>
<text transform="translate(230.3,347.3) rotate(90)" font-size="14" text-anchor="middle" letter-spacing="0.85">***</text>
<rect x="290.85" y="261.1" width="108.8" height="134.2" fill="#dfebfa" stroke="none" stroke-width="1"/>
<rect x="399.65" y="261.1" width="50.4" height="134.2" fill="#fddde0" stroke="none" stroke-width="1"/>
<line x1="399.65" y1="261.1" x2="399.65" y2="395.3" stroke="#a6a6a6" stroke-width="1.2" stroke-dasharray="4 2"/>
<line x1="449.75" y1="261.1" x2="449.75" y2="395.3" stroke="#a6a6a6" stroke-width="1.2" stroke-dasharray="4 2"/>
<line x1="290.05" y1="375.8" x2="450.65" y2="375.8" stroke="#111" stroke-width="1.4"/>
<line x1="343.38" y1="375.8" x2="343.38" y2="393.7" stroke="#111" stroke-width="1.5"/>
<line x1="396.71" y1="375.8" x2="396.71" y2="393.7" stroke="#111" stroke-width="1.5"/>
<line x1="450.04" y1="375.8" x2="450.04" y2="393.7" stroke="#111" stroke-width="1.5"/>
<polyline points="290,375.8 292.02,375.51 294.04,375.53 296.06,375.6 298.07,375.56 300.09,376.02 302.11,375.86 304.13,375.66 306.15,375.94 308.17,375.9 310.19,375.56 312.2,375.97 314.22,375.66 316.24,376.12 318.26,375.61 320.28,375.7 322.3,375.68 324.31,376.05 326.33,376.02 328.35,375.88 330.37,375.63 332.39,375.8 334.41,375.96 336.43,375.58 338.44,376.1 340.46,376.05 342.48,376.11 344.5,375.97 346.52,375.92 348.54,376.14 350.56,375.72 352.57,375.74 354.59,375.63 356.61,375.67 358.63,376.04 360.65,375.62 362.67,376.01 364.69,375.81 366.7,376.1 368.72,376.03 370.74,375.99 372.76,376.08 374.78,375.6 376.8,375.74 378.81,375.8 380.83,375.84 382.85,375.99 384.87,376.11 386.89,376.03 388.91,376.15 390.93,376.01 392.94,375.81 394.96,375.9 396.98,376.05 399,376.09 401.04,375.82 403.08,375.81 405.12,375.97 407.16,375.74 409.2,376.13 411.24,375.6 413.28,375.99 415.32,375.89 417.36,375.72 419.4,375.94 421.44,375.88 423.48,376.18 425.52,376.13 427.56,375.95 429.6,376.12 431.64,376.13 433.68,375.7 435.72,376.1 437.76,376.1 439.8,376.19 441.84,376.06 443.88,375.84 445.92,375.72 447.96,375.99 450,375.9" fill="none" stroke="#111" stroke-width="1" stroke-linejoin="round"/>
<polyline points="290,375.8 292,375.57 294,375.68 296,375.5 298,375.49 300,375.19 302,375.06 304,375.19 306,374.99 308,374.76 310,374.72 312,374.56 314,374.54 316,374.38 318,374.17 320,374.34 322,374.19 324,374.03 326,373.73 328,373.59 330,373.69 332.03,373.69 334.06,373.58 336.09,373.36 338.12,373.52 340.15,373.4 342.18,373.3 344.21,373.35 346.24,373.25 348.26,373.29 350.29,373.29 352.32,373.34 354.35,372.95 356.38,373.09 358.41,373.2 360.44,373.05 362.47,372.97 364.5,373.04 366.53,372.67 368.56,372.93 370.59,372.83 372.62,372.77 374.65,372.62 376.68,372.7 378.71,372.46 380.74,372.58 382.76,372.43 384.79,372.66 386.82,372.57 388.85,372.4 390.88,372.47 392.91,372.28 394.94,372.29 396.97,372.11 399,372.34 401,371.91 403.04,371.92 405.08,371.67 407.12,371.98 409.17,371.67 411.21,371.91 413.25,371.9 415.29,371.74 417.33,371.9 419.38,372.1 421.42,372.02 423.46,371.91 425.5,372.13 427.54,371.96 429.58,372.19 431.62,372.01 433.67,371.9 435.71,372.27 437.75,371.93 439.79,372.02 441.83,372.24 443.88,372 445.92,372.18 447.96,372.33 450,372.2" fill="none" stroke="#0000ff" stroke-width="1.25" stroke-dasharray="1.3 1.6" stroke-linejoin="round" stroke-linecap="butt"/>
<polyline points="290,375.8 292,375.88 294,375.87 296,376.05 298,376.12 300,376.1 302,376.17 304,376.14 306,376.22 308,376.45 310,376.5 312,376.27 314,376.38 316,376.45 318,376.67 320,376.55 322,376.6 324,376.83 326,376.71 328,377.01 330,376.91 332,377.1 334,377.13 336,377 338,377.23 340,377.17 342.03,377.13 344.07,377.09 346.1,377.3 348.14,377.27 350.17,377.21 352.21,377.38 354.24,377.21 356.28,377.29 358.31,377.2 360.34,377.29 362.38,377.47 364.41,377.37 366.45,377.28 368.48,377.31 370.52,377.45 372.55,377.35 374.59,377.55 376.62,377.32 378.66,377.57 380.69,377.51 382.72,377.59 384.76,377.46 386.79,377.39 388.83,377.43 390.86,377.58 392.9,377.42 394.93,377.46 396.97,377.67 399,377.71 401.04,377.74 403.08,377.77 405.12,377.72 407.16,377.86 409.2,377.84 411.24,377.83 413.28,377.83 415.32,377.75 417.36,377.8 419.4,377.88 421.44,377.98 423.48,377.92 425.52,378.21 427.56,378.13 429.6,378.21 431.64,378.29 433.68,378.13 435.72,378.36 437.76,378.42 439.8,378.25 441.84,378.24 443.88,378.48 445.92,378.54 447.96,378.55 450,378.5" fill="none" stroke="#00c000" stroke-width="1.2" stroke-linejoin="round"/>
<polyline points="401,381.5 403.07,381.58 405.14,381.78 407.21,381.71 409.29,381.88 411.36,382.07 413.43,382.33 415.5,382.19 417.57,382.64 419.64,382.4 421.71,382.9 423.79,382.73 425.86,383.08 427.93,383.21 430,383.38 432,383.17 434,383.24 436,383.06 438,383.25 440,382.94 442,383.23 444,383.1 446,382.86 448,383.2 450,383" fill="none" stroke="#00c000" stroke-width="1.25" stroke-dasharray="1.3 1.6" stroke-linejoin="round" stroke-linecap="butt"/>
<polyline points="290,375.8 292,375.7 294,375.57 296,375.58 298,375.47 300,375.49 302,375.57 304,375.61 306,375.46 308,375.47 310,375.42 312,375.34 314,375.19 316,375.1 318,375.02 320,375.09 322,374.94 324,375.06 326,374.88 328,374.91 330,374.85 332,374.83 334,374.64 336,374.62 338,374.7 340,374.51 342.03,374.64 344.07,374.73 346.1,374.55 348.14,374.71 350.17,374.6 352.21,374.69 354.24,374.56 356.28,374.62 358.31,374.59 360.34,374.44 362.38,374.53 364.41,374.54 366.45,374.5 368.48,374.55 370.52,374.62 372.55,374.58 374.59,374.58 376.62,374.37 378.66,374.53 380.69,374.5 382.72,374.59 384.76,374.3 386.79,374.34 388.83,374.58 390.86,374.39 392.9,374.48 394.93,374.44 396.97,374.38 399,374.38 402,375.42 404,375.59 406,375.49 408,375.61 410,375.51 412,375.67 414,375.68 416,375.76 418,375.85 420,375.65 422,375.96 424,375.89 426,375.83 428,375.93 430,375.86 432,375.94 434,376.17 436,376.17 438,376.26 440,376.09 442,376.12 444,376.24 446,376.32 448,376.42 450,376.4" fill="none" stroke="#0000ff" stroke-width="2.4" stroke-linejoin="round"/>
<polyline points="290,375.8 292,375.84 294,376.06 296,376.11 298,376.12 300,376.37 302,376.25 304,376.5 306,376.47 308,376.53 310,376.75 312,376.86 314,376.99 316,377.01 318,377.27 320,377.33 322,377.23 324,377.28 326,377.67 328,377.6 330,377.6 332,377.72 334,377.97 336,377.91 338,378.07 340,378.25 342.03,378.17 344.07,378.27 346.1,378.38 348.14,378.34 350.17,378.31 352.21,378.32 354.24,378.24 356.28,378.35 358.31,378.37 360.34,378.36 362.38,378.35 364.41,378.44 366.45,378.29 368.48,378.46 370.52,378.55 372.55,378.28 374.59,378.36 376.62,378.59 378.66,378.34 380.69,378.57 382.72,378.51 384.76,378.37 386.79,378.56 388.83,378.38 390.86,378.65 392.9,378.5 394.93,378.7 396.97,378.71 399,378.49 401.04,378.57 403.08,378.5 405.12,378.68 407.16,378.48 409.2,378.47 411.24,378.48 413.28,378.71 415.32,378.52 417.36,378.55 419.4,378.58 421.44,378.62 423.48,378.57 425.52,378.73 427.56,378.55 429.6,378.59 431.64,378.71 433.68,378.52 435.72,378.5 437.76,378.7 439.8,378.54 441.84,378.72 443.88,378.7 445.92,378.56 447.96,378.55 450,378.6" fill="none" stroke="#f550d8" stroke-width="2" stroke-linejoin="round"/>
<polyline points="290,375.8 292,375.87 294,376.3 296,376.36 298,376.52 300,376.66 302,376.87 304,377.26 306,377.23 308,377.54 310,377.76 312,377.92 314,378.1 316,378.27 318,378.4 320,378.78 322,378.99 324,379.08 326,379.18 328,379.57 330,379.55 332,379.73 334,380.06 336,380.32 338,380.43 340,380.48 342.03,380.76 344.07,380.52 346.1,380.59 348.14,380.8 350.17,380.76 352.21,380.76 354.24,380.57 356.28,380.82 358.31,380.69 360.34,380.59 362.38,380.84 364.41,380.89 366.45,380.64 368.48,380.78 370.52,380.93 372.55,380.77 374.59,380.78 376.62,380.93 378.66,380.84 380.69,381.03 382.72,381 384.76,381.01 386.79,380.98 388.83,380.84 390.86,381 392.9,380.98 394.93,380.97 396.97,381.01 399,380.94 401.04,380.91 403.08,381.12 405.12,380.96 407.16,380.88 409.2,381.14 411.24,381 413.28,381.05 415.32,380.95 417.36,380.89 419.4,380.95 421.44,381.1 423.48,380.93 425.52,381.12 427.56,380.94 429.6,381.12 431.64,380.9 433.68,380.98 435.72,380.89 437.76,380.89 439.8,381.01 441.84,380.96 443.88,381.01 445.92,380.91 447.96,380.94 450,381" fill="none" stroke="#f550d8" stroke-width="1.25" stroke-dasharray="1.3 1.6" stroke-linejoin="round" stroke-linecap="butt"/>
<polyline points="399,338.2 401.47,336.3 403.93,334.69 406.4,332.53 408.51,331.41 410.63,330.33 412.74,328.96 414.86,327.57 416.97,326.61 419.09,325 421.2,323.75 423.31,322.96 425.43,322.39 427.54,321.81 429.66,320.84 431.77,320.1 433.89,319.56 436,318.53 438.23,317.03 440.45,315.82 442.67,314.11 444.9,312.81 448.6,309.1" fill="none" stroke="#ff0000" stroke-width="1.25" stroke-dasharray="1.3 1.6" stroke-linejoin="round" stroke-linecap="butt"/>
<polyline points="399,339.2 401.47,338.12 403.93,337.37 406.4,336.54 408.51,335.54 410.63,334.62 412.74,333.92 414.86,333.11 416.97,332.01 419.09,331.24 421.2,330.45 423.31,330.19 425.43,329.78 427.54,329.62 429.66,329.15 431.77,329.09 433.89,328.55 436,328.19 438.1,327.51 440.2,326.92 442.3,326.34 444.4,325.99 446.5,325.18 448.6,324.6" fill="none" stroke="#ff0000" stroke-width="1.25" stroke-dasharray="1.3 1.6" stroke-linejoin="round" stroke-linecap="butt"/>
<polyline points="289.75,375.5 292.24,373.73 294.73,372.18 297.21,370.44 299.7,368.61 302.04,367.22 304.38,366.07 306.72,364.96 309.06,363.68 311.4,362.54 313.72,361.57 316.04,360.66 318.36,359.94 320.68,358.96 323,357.98 325.34,357.17 327.68,356.41 330.02,355.61 332.36,354.53 334.7,354.04 337.04,353.07 339.38,352.2 341.72,351.62 344.06,350.72 346.4,349.74 348.74,349.03 351.08,348.61 353.42,348.04 355.76,347.43 358.1,346.74 360.58,346.41 363.05,345.75 365.52,345.43 368,344.81 370.2,344.12 372.4,343.73 374.6,342.98 376.8,342.23 378.91,341.98 381.03,341.56 383.14,341.39 385.26,341.25 387.37,340.93 389.49,340.49 391.6,339.96 394.07,339.53 396.53,339.05 399,338.65 401.47,337.26 403.93,335.51 406.4,334.2 408.87,332.94 411.33,331.8 413.8,330.63 416.27,329.49 418.73,328.61 421.2,327.51 423.67,326.82 426.13,326.12 428.6,325.12 431.07,324.84 433.53,324.37 436,323.77 438.2,323.05 440.4,322.53 442.65,320.84 444.9,319.28 448.6,316.5" fill="none" stroke="#ff0000" stroke-width="1.6" stroke-linejoin="round"/>
<polyline points="289.75,375.5 299.7,368.5 311.4,362.6 323,358 334.7,353.9 346.4,349.8 358.1,346.9 368,344.8 376.8,342.4 391.6,340.1 399,338.7 406.4,334.2 413.8,330.5" fill="none" stroke="#ff0000" stroke-width="2.5" stroke-dasharray="1.1 1.5" stroke-linejoin="round" stroke-linecap="butt"/>
<line x1="290.05" y1="260.5" x2="290.05" y2="395.5" stroke="#111" stroke-width="1.8"/>
<line x1="282.25" y1="375.8" x2="290.05" y2="375.8" stroke="#111" stroke-width="1.2"/>
<text transform="translate(280.15,380.4)" font-size="12" text-anchor="end" letter-spacing="1.9" fill="#111">0</text>
<line x1="282.25" y1="337.57" x2="290.05" y2="337.57" stroke="#111" stroke-width="1.2"/>
<text transform="translate(280.15,342.17)" font-size="12" text-anchor="end" letter-spacing="1.9" fill="#111">500</text>
<line x1="282.25" y1="299.33" x2="290.05" y2="299.33" stroke="#111" stroke-width="1.2"/>
<text transform="translate(280.15,303.93)" font-size="12" text-anchor="end" letter-spacing="1.9" fill="#111">1000</text>
<line x1="282.25" y1="261.1" x2="290.05" y2="261.1" stroke="#111" stroke-width="1.2"/>
<text transform="translate(280.15,265.7)" font-size="12" text-anchor="end" letter-spacing="1.9" fill="#111">1500</text>
<rect x="293.6" y="261.1" width="92" height="32.5" fill="#fff" stroke="#5a5a5a" stroke-width="1.1"/>
<path d="M317.8 276.3L336.8 276.3L343.7 269.4L353.4 269.4M317.8 276.3L336.8 276.3L343.7 283.2L353.4 283.2" fill="none" stroke="#8c8c8c" stroke-width="8.2" stroke-linecap="square" stroke-linejoin="miter"/>
<path d="M317.8 276.3L336.8 276.3L343.7 269.4L353.4 269.4M317.8 276.3L336.8 276.3L343.7 283.2L353.4 283.2" fill="none" stroke="#fff" stroke-width="6.8" stroke-linecap="square" stroke-linejoin="miter"/>
<path d="M304.4 276.3L317.8 276.3M317.8 276.3L336.8 276.3M336.8 276.3L343.7 269.4M336.8 276.3L343.7 283.2M343.7 269.4L353.4 269.4M343.7 283.2L353.4 283.2M317.8 276.3L317.8 287.8M353.4 269.4L372.2 269.4M353.4 283.2L372.2 283.2" fill="none" stroke="#333" stroke-width="0.7"/>
<polygon points="304.4,271.4 305.63,274.6 309.06,274.79 306.4,276.95 307.28,280.26 304.4,278.4 301.52,280.26 302.4,276.95 299.74,274.79 303.17,274.6" fill="#fff" stroke="#222" stroke-width="0.6"/>
<rect x="314.8" y="273.3" width="6" height="6" fill="#0000fa" stroke="#000" stroke-width="0.5"/>
<rect x="324.3" y="273.3" width="6" height="6" fill="#0000fa" stroke="#000" stroke-width="0.5"/>
<circle cx="336.8" cy="276.3" r="3" fill="#00c040" stroke="#000" stroke-width="0.5"/>
<circle cx="343.7" cy="269.4" r="3" fill="#00c040" stroke="#000" stroke-width="0.5"/>
<circle cx="343.7" cy="283.2" r="3" fill="#00c040" stroke="#000" stroke-width="0.5"/>
<rect x="350.4" y="266.4" width="6" height="6" fill="#0000fa" stroke="#000" stroke-width="0.5"/>
<rect x="350.4" y="280.2" width="6" height="6" fill="#0000fa" stroke="#000" stroke-width="0.5"/>
<polygon points="317.8,285.3 320.8,291.3 314.8,291.3" fill="#ff0000" stroke="#000" stroke-width="0.4"/>
<circle cx="362.8" cy="269.4" r="3" fill="#ffff00" stroke="#000" stroke-width="0.5"/>
<circle cx="362.8" cy="283.2" r="3" fill="#ffff00" stroke="#000" stroke-width="0.5"/>
<polygon points="372.2,266.4 375.2,269.4 372.2,272.4 369.2,269.4" fill="#c000c8" stroke="#000" stroke-width="0.5"/>
<polygon points="372.2,280.2 375.2,283.2 372.2,286.2 369.2,283.2" fill="#c000c8" stroke="#000" stroke-width="0.5"/>
<line x1="453.8" y1="313.2" x2="453.8" y2="376.8" stroke="#000" stroke-width="1.3"/>
<text transform="translate(451.8,346.1) rotate(90)" font-size="14" text-anchor="middle" letter-spacing="0.85">***</text>
<rect x="511.8" y="261.1" width="108.8" height="134.2" fill="#dfebfa" stroke="none" stroke-width="1"/>
<rect x="620.6" y="261.1" width="50.4" height="134.2" fill="#fddde0" stroke="none" stroke-width="1"/>
<line x1="620.6" y1="261.1" x2="620.6" y2="395.3" stroke="#a6a6a6" stroke-width="1.2" stroke-dasharray="4 2"/>
<line x1="670.7" y1="261.1" x2="670.7" y2="395.3" stroke="#a6a6a6" stroke-width="1.2" stroke-dasharray="4 2"/>
<line x1="511" y1="375.8" x2="671.6" y2="375.8" stroke="#111" stroke-width="1.4"/>
<line x1="564.33" y1="375.8" x2="564.33" y2="393.7" stroke="#111" stroke-width="1.5"/>
<line x1="617.66" y1="375.8" x2="617.66" y2="393.7" stroke="#111" stroke-width="1.5"/>
<line x1="670.99" y1="375.8" x2="670.99" y2="393.7" stroke="#111" stroke-width="1.5"/>
<polyline points="511,375.8 513.07,375.8 515.14,376.07 517.21,376.12 519.29,376.22 521.36,376.34 523.43,376.4 525.5,376.7 527.57,376.89 529.64,376.71 531.71,377.14 533.79,377.1 535.86,377.63 537.93,377.73 540,377.38 542,377.8 544,377.67 546,377.61 548,378.15 550,378.24 552,378.25 554,378.24 556,378.53 558,378.35 560,378.51 562,378.57 564,378.78 566,378.85 568,378.6 570,378.62 572,378.91 574,379.01 576,378.95 578,379.34 580,379.41 582,379.33 584,379.25 586,379.36 588,379.08 590,379.46 592,379.07 594,379.55 596,379.4 598,379.2 600,379.16 602,379.42 604,379.36 606,379.51 608,379.17 610,379.65 612,379.4 614,379.42 616,379.61 618,379.55 620,379.47 622.04,379.37 624.08,379.46 626.12,379.19 628.17,379.32 630.21,379.65 632.25,379.22 634.29,379.19 636.33,379.64 638.38,379.35 640.42,379.43 642.46,379.46 644.5,379.53 646.54,379.28 648.58,379.55 650.62,379.08 652.67,379.58 654.71,379.24 656.75,379.43 658.79,379.22 660.83,379.48 662.88,379.25 664.92,379.38 666.96,379.2 669,379.3" fill="none" stroke="#d4d4d4" stroke-width="1.8" stroke-linejoin="round"/>
<polyline points="511,375.8 513.07,376.38 515.14,376.84 517.21,377.15 519.29,377.79 521.36,378.33 523.43,378.59 525.5,379.06 527.57,379.76 529.64,380.25 531.71,380.47 533.79,381.15 535.86,381.67 537.93,381.95 540,382.58 542,382.75 544,383.21 546,383.43 548,383.73 550,383.94 552,384.41 554,384.73 556,384.92 558,385.15 560,385.48 562,385.79 564,386.27 566,386.45 568,386.76 570,386.97 572,387.05 574,387.39 576,387.81 578,388.05 580,388.35 582,388.48 584,388.62 586,388.82 588,389.04 590,389.08 592,389.14 594,389.4 596,389.49 598,389.75 600,390.03 602.16,390.07 604.31,390.19 606.47,390.28 608.62,390.49 610.78,390.67 612.93,390.83 615.09,391.07 617.24,390.94 619.4,391.13 621.9,389.27 623.91,389.52 625.91,389.42 627.92,389.42 629.92,389.45 631.93,389.2 633.93,389.46 635.94,389.28 637.94,389.35 639.95,389.28 641.95,389.37 643.96,389.22 645.96,389.21 647.97,389.19 649.97,389.32 651.98,389.23 653.98,389.13 655.99,389.18 657.99,389.23 660,389.16 662,389.43 664,389.7 666,389.84 669,393.5" fill="none" stroke="#0000ff" stroke-width="2" stroke-linejoin="round"/>
<polyline points="511,375.8 513.07,376.15 515.14,376.27 517.21,376.7 519.29,376.99 521.36,377.13 523.43,377.24 525.5,377.53 527.57,377.99 529.64,378.29 531.71,378.51 533.79,378.71 535.86,378.98 537.93,379.12 540,379.53 542,379.96 544,380.03 546,380.46 548,380.85 550,381.1 552,381.32 554,381.59 556,382.05 558,382.42 560,382.71 562,382.83 564,383.19 566,383.47 568,383.6 570,383.98 572,384.13 574,384.33 576,384.53 578,385.01 580,385.28 582,385.24 584,385.43 586,385.69 588,385.83 590,386.17 592,386.19 594,386.49 596,386.66 598,386.77 600,387.11 602.16,387.11 604.31,387.27 606.47,387.45 608.62,387.5 610.78,387.57 612.93,387.94 615.09,388.01 617.24,388.08 619.4,388.2 621.9,386.44 623.91,386.33 625.91,386.25 627.92,386.38 629.92,386.48 631.93,386.23 633.93,386.48 635.94,386.29 637.94,386.47 639.95,386.39 641.95,386.23 643.96,386.2 645.96,386.39 647.97,386.41 649.97,386.34 651.98,386.27 653.98,386.24 655.99,386.31 657.99,386.31 660,386.3 662,386.34 664,386.7 666,386.94 669,390.5" fill="none" stroke="#0000ff" stroke-width="1.25" stroke-dasharray="1.3 1.6" stroke-linejoin="round" stroke-linecap="butt"/>
<polyline points="511,375.8 513.07,376.52 515.14,377.04 517.21,377.79 519.29,378.62 521.36,379.24 523.43,380.08 525.5,380.69 527.57,381.4 529.64,381.93 531.71,382.74 533.79,383.48 535.86,384.24 537.93,384.93 540,385.43 542,385.81 544,386.26 546,386.31 548,386.61 550,386.95 552,387.43 554,387.62 556,388.04 558,388.39 560,388.69 562,388.72 564,389.18 566,389.47 568,389.7 570,390.01 572,390.26 574,390.45 576,390.79 578,390.95 580,391.08 582,391.32 584,391.69 586,391.69 588,391.91 590,392.21 592,392.34 594,392.55 596,392.63 598,392.82 600,392.87 602.16,393.04 604.31,393.16 606.47,393.41 608.62,393.54 610.78,393.54 612.93,393.84 615.09,393.81 617.24,394.03 619.4,394.06 621.9,392.39 623.91,392.28 625.91,392.51 627.92,392.33 629.92,392.46 631.93,392.33 633.93,392.28 635.94,392.43 637.94,392.25 639.95,392.31 641.95,392.34 643.96,392.43 645.96,392.33 647.97,392.13 649.97,392.24 651.98,392.38 653.98,392.34 655.99,392.18 657.99,392.1 660,392.13 662,392.48 664,392.5 666,392.92 669,396.5" fill="none" stroke="#0000ff" stroke-width="1.25" stroke-dasharray="1.3 1.6" stroke-linejoin="round" stroke-linecap="butt"/>
<polyline points="511,375.8 513.25,376.53 515.5,377.46 517.75,378.26 520,378.92 522,379.41 524,379.84 526,380.13 528,380.61 530,381.04 532,381.54 534,381.74 536,382.1 538,382.6 540,383.03 542,383.16 544,383.44 546,383.39 548,383.64 550,383.79 552,383.87 554,384.11 556,384.27 558,384.4 560,384.68 562,384.89 564,385.02 566,384.94 568,385.12 570,385.43 572,385.31 574,385.46 576,385.59 578,386 580,386 582,386.06 584,386.04 586,386.36 588,386.47 590,386.46 592,386.6 594,386.58 596,386.58 598,386.62 600,386.74 602.16,386.75 604.31,386.87 606.47,386.83 608.62,386.88 610.78,387.2 612.93,387.24 615.09,387.28 617.24,387.2 619.4,387.29 621.9,383.81 623.95,383.89 626,383.74 628.05,383.8 630.1,383.81 632.15,383.9 634.2,383.75 636.25,383.65 638.3,383.77 640.35,383.92 642.4,383.7 644.45,383.84 646.5,383.69 648.55,383.73 650.6,383.84 652.65,383.68 654.7,383.79 656.75,383.83 658.8,383.77 660.85,383.88 662.9,383.9 664.95,383.73 667,383.88 669.5,386" fill="none" stroke="#00c000" stroke-width="2.6" stroke-linejoin="round"/>
<polyline points="511,375.8 513.25,376.26 515.5,376.59 517.75,376.97 520,377.35 522,377.71 524,378 526,378.18 528,378.6 530,378.93 532,379.16 534,379.6 536,379.73 538,380.11 540,380.42 542,380.59 544,380.63 546,380.93 548,380.92 550,381.21 552,381.35 554,381.58 556,381.79 558,381.99 560,381.92 562,382.26 564,382.27 566,382.42 568,382.42 570,382.81 572,382.76 574,382.91 576,383.06 578,383.18 580,383.34 582,383.42 584,383.57 586,383.6 588,383.8 590,383.93 592,384.01 594,383.92 596,384.09 598,384.19 600,384.27 602.16,384.23 604.31,384.22 606.47,384.44 608.62,384.47 610.78,384.43 612.93,384.58 615.09,384.46 617.24,384.73 619.4,384.82 621.9,381.34 623.95,381.08 626,381.26 628.05,381.28 630.1,381.09 632.15,381.23 634.2,381.11 636.25,381.12 638.3,381.06 640.35,381.13 642.4,381.3 644.45,381.23 646.5,381.29 648.55,381.34 650.6,381.1 652.65,381.3 654.7,381.32 656.75,381.24 658.8,381.15 660.85,381.1 662.9,381.18 664.95,381.16 667,381.13 669.5,383.4" fill="none" stroke="#00c000" stroke-width="1.25" stroke-dasharray="1.3 1.6" stroke-linejoin="round" stroke-linecap="butt"/>
<polyline points="511,375.8 513.25,377.07 515.5,378.28 517.75,379.38 520,380.57 522,381.16 524,381.72 526,382.2 528,382.69 530,383.25 532,383.71 534,384.1 536,384.69 538,385.16 540,385.55 542,385.66 544,385.88 546,386.15 548,386.32 550,386.34 552,386.57 554,386.59 556,386.91 558,387.02 560,387.28 562,387.45 564,387.35 566,387.76 568,387.66 570,388.04 572,388.19 574,388.1 576,388.26 578,388.35 580,388.72 582,388.76 584,388.9 586,388.93 588,388.88 590,389.08 592,389.04 594,389.11 596,389.22 598,389.38 600,389.34 602.16,389.47 604.31,389.53 606.47,389.66 608.62,389.61 610.78,389.65 612.93,389.75 615.09,389.78 617.24,389.91 619.4,389.78 621.9,386.3 623.95,386.26 626,386.37 628.05,386.5 630.1,386.43 632.15,386.44 634.2,386.53 636.25,386.5 638.3,386.34 640.35,386.32 642.4,386.41 644.45,386.32 646.5,386.43 648.55,386.27 650.6,386.37 652.65,386.47 654.7,386.33 656.75,386.29 658.8,386.47 660.85,386.31 662.9,386.52 664.95,386.43 667,386.52 669.5,388.6" fill="none" stroke="#00c000" stroke-width="1.25" stroke-dasharray="1.3 1.6" stroke-linejoin="round" stroke-linecap="butt"/>
<polyline points="511,375.8 513.25,376.36 515.5,376.9 517.75,377.38 520,377.87 522,378.32 524,378.28 526,378.41 528,378.85 530,378.91 532,379.1 534,379.39 536,379.51 538,379.55 540,379.73 542,379.95 544,380.05 546,380.02 548,380.12 550,380.3 552,380.27 554,380.59 556,380.65 558,380.6 560,380.82 562,380.93 564,380.88 566,381.08 568,381.29 570,381.29 572,381.47 574,381.42 576,381.75 578,381.75 580,381.82 582,381.77 584,382 586,382.01 588,382.26 590,382.3 592,382.44 594,382.58 596,382.65 598,382.82 600,383 602.16,383 604.31,383.24 606.47,383.47 608.62,383.51 610.78,383.69 612.93,383.55 615.09,383.83 617.24,383.81 619.4,384.13 621.9,384 623.9,384.07 625.91,384.08 627.91,383.89 629.92,383.88 631.92,384.09 633.93,384.1 635.93,383.98 637.94,383.86 639.94,383.86 641.95,384.09 643.95,384.06 645.95,383.96 647.96,384.05 649.96,384.09 651.97,383.85 653.97,384.07 655.98,384.14 657.98,384.11 659.99,384.12 661.99,383.98 664,384.03 666,383.88 669.5,389" fill="none" stroke="#f550d8" stroke-width="2" stroke-linejoin="round"/>
<polyline points="544,368.5 546.34,367.64 548.68,366.6 551.02,365.52 553.36,364.4 555.7,363.47 558.04,362.74 560.38,362.13 562.72,361.13 565.06,360.47 567.4,359.37 569.56,358.94 571.72,358.47 573.88,358.03 576.04,357.78 578.2,357.15 580.36,356.67 582.52,356.35 584.68,355.8 586.84,355.51 589,354.98 591.07,354.51 593.13,353.83 595.2,353.3 597.27,352.8 599.33,352.5 601.4,351.96 603.47,351.29 605.53,350.74 607.6,350.05 609.67,349.84 611.73,349.22 613.8,348.62 615.87,348.01 617.93,347.61 620,347.18 621.5,341.01 623.56,339.59 625.61,338.28 627.67,336.86 629.73,335.25 631.79,333.85 633.84,332.56 635.9,331.28 638.06,329.97 640.21,328.63 642.37,327.54 644.53,326.34 646.69,325.38 648.84,323.98 651,323.09 653.25,320.93 655.5,319.01 657.75,317.06 660,315.36 662.25,313.49 664.5,311.71 668.3,301.8" fill="none" stroke="#ff0000" stroke-width="1.25" stroke-dasharray="1.3 1.6" stroke-linejoin="round" stroke-linecap="butt"/>
<polyline points="544,371.5 546.34,370.87 548.68,370.12 551.02,369.22 553.36,368.87 555.7,367.9 558.04,367.37 560.38,366.83 562.72,366.48 565.06,365.98 567.4,365.33 569.56,364.77 571.72,364.14 573.88,363.85 576.04,363.36 578.2,362.6 580.36,362.12 582.52,361.79 584.68,361.24 586.84,360.48 589,360.3 591.07,359.93 593.13,359.67 595.2,359.25 597.27,359.25 599.33,358.78 601.4,358.59 603.47,358.47 605.53,358.15 607.6,357.63 609.67,357.35 611.73,357.12 613.8,356.83 615.87,356.87 617.93,356.48 620,356.19 621.5,350.85 623.56,349.38 625.61,347.85 627.67,346.45 629.73,344.81 631.79,343.48 633.84,341.95 635.9,340.45 638.06,339.43 640.21,338.23 642.37,337.35 644.53,336.55 646.69,335.39 648.84,334.5 651,333.38 653.25,331.75 655.5,329.67 657.75,327.79 660,326.09 662.25,323.92 664.5,322 668.3,314.6" fill="none" stroke="#ff0000" stroke-width="1.25" stroke-dasharray="1.3 1.6" stroke-linejoin="round" stroke-linecap="butt"/>
<polyline points="510.75,375.9 513.24,375.86 515.73,375.87 518.21,375.71 520.7,375.85 523.04,375.67 525.38,375.37 527.72,375.03 530.06,374.61 532.4,373.89 534.72,373.21 537.04,372.43 539.36,371.4 541.68,370.96 544,369.89 546.34,369.32 548.68,368.45 551.02,367.42 553.36,366.64 555.7,365.87 558.04,365.05 560.38,364.26 562.72,363.76 565.06,362.96 567.4,362.28 569.74,362.02 572.08,361.48 574.42,360.8 576.76,360.08 579.1,359.93 581.58,359.31 584.05,358.85 586.52,358.8 589,358.5 591.27,357.45 593.55,356.87 595.83,356.32 598.1,355.41 600.26,355 602.41,354.57 604.57,354.18 606.73,354.28 608.89,353.91 611.04,353.27 613.2,353.17 615.47,352.45 617.73,352.22 620,351.54 620.8,347.2 623.3,345.35 625.8,343.36 628.3,341.83 630.83,340.38 633.37,338.57 635.9,337.07 638.4,336.18 640.9,335.41 643.4,334.54 645.93,332.24 648.47,330.41 651,328.31 653.5,326.32 656,324.64 658.5,323.07 660.5,321.16 662.5,319.44 664.5,317.81 666.8,311.42 668.3,304.1" fill="none" stroke="#ff0000" stroke-width="1.7" stroke-linejoin="round"/>
<polyline points="510.75,375.9 520.7,375.9 532.4,374.1 544,370 555.7,365.9 567.4,362.4" fill="none" stroke="#ff0000" stroke-width="2.4" stroke-dasharray="1.0 1.6" stroke-linejoin="round" stroke-linecap="butt"/>
<line x1="511" y1="260.5" x2="511" y2="395.5" stroke="#111" stroke-width="1.8"/>
<line x1="503.2" y1="375.8" x2="511" y2="375.8" stroke="#111" stroke-width="1.2"/>
<text transform="translate(501.1,380.4)" font-size="12" text-anchor="end" letter-spacing="1.9" fill="#111">0</text>
<line x1="503.2" y1="337.57" x2="511" y2="337.57" stroke="#111" stroke-width="1.2"/>
<text transform="translate(501.1,342.17)" font-size="12" text-anchor="end" letter-spacing="1.9" fill="#111">500</text>
<line x1="503.2" y1="299.33" x2="511" y2="299.33" stroke="#111" stroke-width="1.2"/>
<text transform="translate(501.1,303.93)" font-size="12" text-anchor="end" letter-spacing="1.9" fill="#111">1000</text>
<line x1="503.2" y1="261.1" x2="511" y2="261.1" stroke="#111" stroke-width="1.2"/>
<text transform="translate(501.1,265.7)" font-size="12" text-anchor="end" letter-spacing="1.9" fill="#111">1500</text>
<rect x="514.5" y="261.1" width="91.9" height="32.5" fill="#fff" stroke="#5a5a5a" stroke-width="1.1"/>
<path d="M538.7 276.3L557.7 276.3L564.6 269.4L574.3 269.4M538.7 276.3L557.7 276.3L564.6 283.2L574.3 283.2" fill="none" stroke="#8c8c8c" stroke-width="8.2" stroke-linecap="square" stroke-linejoin="miter"/>
<path d="M538.7 276.3L557.7 276.3L564.6 269.4L574.3 269.4M538.7 276.3L557.7 276.3L564.6 283.2L574.3 283.2" fill="none" stroke="#fff" stroke-width="6.8" stroke-linecap="square" stroke-linejoin="miter"/>
<path d="M525.3 276.3L538.7 276.3M538.7 276.3L557.7 276.3M557.7 276.3L564.6 269.4M557.7 276.3L564.6 283.2M564.6 269.4L574.3 269.4M564.6 283.2L574.3 283.2M574.3 269.4L593.1 269.4M574.3 283.2L593.1 283.2" fill="none" stroke="#333" stroke-width="0.7"/>
<polygon points="525.3,271.4 526.53,274.6 529.96,274.79 527.3,276.95 528.18,280.26 525.3,278.4 522.42,280.26 523.3,276.95 520.64,274.79 524.07,274.6" fill="#fff" stroke="#222" stroke-width="0.6"/>
<rect x="535.7" y="273.3" width="6" height="6" fill="#0000fa" stroke="#000" stroke-width="0.5"/>
<rect x="545.2" y="273.3" width="6" height="6" fill="#0000fa" stroke="#000" stroke-width="0.5"/>
<circle cx="557.7" cy="276.3" r="3" fill="#00c040" stroke="#000" stroke-width="0.5"/>
<circle cx="564.6" cy="269.4" r="3" fill="#00c040" stroke="#000" stroke-width="0.5"/>
<circle cx="564.6" cy="283.2" r="3" fill="#00c040" stroke="#000" stroke-width="0.5"/>
<rect x="571.3" y="266.4" width="6" height="6" fill="#0000fa" stroke="#000" stroke-width="0.5"/>
<rect x="571.3" y="280.2" width="6" height="6" fill="#0000fa" stroke="#000" stroke-width="0.5"/>
<circle cx="583.7" cy="269.4" r="3" fill="#ffff00" stroke="#000" stroke-width="0.5"/>
<circle cx="583.7" cy="283.2" r="3" fill="#ffff00" stroke="#000" stroke-width="0.5"/>
<polygon points="593.1,266.4 596.1,269.4 593.1,272.4 590.1,269.4" fill="#c000c8" stroke="#000" stroke-width="0.5"/>
<polygon points="593.1,280.2 596.1,283.2 593.1,286.2 590.1,283.2" fill="#c000c8" stroke="#000" stroke-width="0.5"/>
<line x1="674.6" y1="301.6" x2="674.6" y2="390.7" stroke="#000" stroke-width="1.3"/>
<text transform="translate(672.6,347.25) rotate(90)" font-size="14" text-anchor="middle" letter-spacing="0.85">***</text>
<rect x="69" y="478.4" width="108.8" height="134.5" fill="#dfebfa" stroke="none" stroke-width="1"/>
<rect x="177.8" y="478.4" width="50.4" height="134.5" fill="#fddde0" stroke="none" stroke-width="1"/>
<line x1="177.8" y1="478.4" x2="177.8" y2="612.9" stroke="#a6a6a6" stroke-width="1.2" stroke-dasharray="4 2"/>
<line x1="227.9" y1="478.4" x2="227.9" y2="612.9" stroke="#a6a6a6" stroke-width="1.2" stroke-dasharray="4 2"/>
<line x1="68.2" y1="593.5" x2="228.8" y2="593.5" stroke="#111" stroke-width="1.4"/>
<line x1="121.53" y1="593.5" x2="121.53" y2="611.3" stroke="#111" stroke-width="1.5"/>
<line x1="174.86" y1="593.5" x2="174.86" y2="611.3" stroke="#111" stroke-width="1.5"/>
<line x1="228.19" y1="593.5" x2="228.19" y2="611.3" stroke="#111" stroke-width="1.5"/>
<polyline points="68.2,593.5 70.32,593.55 72.44,593.66 74.56,593.76 76.68,593.91 78.8,593.73 80.92,593.92 83.04,593.99 85.16,593.85 87.28,594.33 89.4,594.51 91.52,594.34 93.64,594.33 95.76,594.37 97.88,594.5 100,594.52 102.03,594.47 104.05,594.89 106.08,594.55 108.11,594.47 110.13,594.75 112.16,594.37 114.18,594.59 116.21,594.72 118.24,594.89 120.26,594.59 122.29,594.45 124.32,595.01 126.34,594.44 128.37,594.7 130.39,594.76 132.42,595.06 134.45,594.69 136.47,594.63 138.5,594.67 140.53,594.74 142.55,594.61 144.58,595.07 146.61,594.85 148.63,594.99 150.66,594.73 152.68,594.97 154.71,595.13 156.74,594.73 158.76,595.18 160.79,594.79 162.82,595.06 164.84,595.2 166.87,594.93 168.89,595.22 170.92,594.91 172.95,594.94 174.97,595.24 177,595.06 179.04,594.73 181.08,594.79 183.12,595.02 185.16,594.9 187.2,594.73 189.24,595.19 191.28,594.9 193.32,595.24 195.36,594.92 197.4,594.81 199.44,594.95 201.48,595.2 203.52,595.24 205.56,595.04 207.6,594.85 209.64,595.02 211.68,594.86 213.72,594.92 215.76,594.7 217.8,594.71 219.84,595.26 221.88,595.16 223.92,594.85 225.96,595.07 228,595" fill="none" stroke="#d0d0d0" stroke-width="1.2" stroke-linejoin="round"/>
<polyline points="178.5,599.8 180.52,599.54 182.54,600.03 184.56,599.92 186.58,600 188.6,599.84 190.62,599.86 192.65,600.11 194.67,599.82 196.69,599.7 198.71,599.74 200.73,600.23 202.75,599.87 204.77,599.75 206.79,600.07 208.81,599.83 210.83,600.02 212.85,600.25 214.88,599.94 216.9,600.07 218.92,600.39 220.94,600.37 222.96,600.39 224.98,599.91 227,600.2" fill="none" stroke="#111" stroke-width="1.3" stroke-linejoin="round"/>
<polyline points="68.2,593.5 70.25,594.01 72.3,594.17 74.35,594.34 76.4,594.99 78.45,594.97 80.5,595.64 82.55,595.59 84.6,595.93 86.65,596.41 88.7,596.79 90.75,597.11 92.8,597.53 94.85,597.57 96.9,598.14 98.95,598.3 101,598.88 103.05,598.79 105.09,598.86 107.14,598.68 109.18,599.03 111.23,598.82 113.27,598.83 115.32,598.95 117.36,599.14 119.41,599 121.45,599.1 123.5,599.19 125.55,599.09 127.59,599.08 129.64,599.24 131.68,599.4 133.73,599.43 135.77,599.28 137.82,599.5 139.86,599.61 141.91,599.6 143.95,599.43 146,599.42 148.07,599.85 150.13,599.79 152.2,599.67 154.27,599.91 156.33,599.9 158.4,599.97 160.47,599.92 162.53,600.09 164.6,600.03 166.67,600.09 168.73,600.12 170.8,600.33 172.87,600.44 174.93,600.26 177,600.4" fill="none" stroke="#00c000" stroke-width="1.25" stroke-dasharray="1.3 1.6" stroke-linejoin="round" stroke-linecap="butt"/>
<polyline points="180,594.6 182,594.42 184,594.48 186,594.68 188,594.51 190,594.36 192,594.69 194,594.52 196,594.36 198,594.62 200,594.52 202,594.65 204,594.63 206,594.62 208,594.64 210,594.43 212,594.59 214,594.46 216,594.51 218,594.33 220,594.48 222,594.25 224,594.56 226,594.28 228,594.4" fill="none" stroke="#00c000" stroke-width="1.25" stroke-dasharray="1.3 1.6" stroke-linejoin="round" stroke-linecap="butt"/>
<polyline points="68.2,593.5 70.25,593.7 72.3,593.95 74.35,594.12 76.4,594.31 78.45,594.35 80.5,594.42 82.55,594.87 84.6,594.84 86.65,595.18 88.7,595.22 90.75,595.41 92.8,595.61 94.85,595.79 96.9,596.03 98.95,596.15 101,596.2 103.05,596.35 105.09,596.26 107.14,596.53 109.18,596.37 111.23,596.46 113.27,596.57 115.32,596.54 117.36,596.75 119.41,596.76 121.45,596.66 123.5,596.73 125.55,596.86 127.59,596.84 129.64,596.91 131.68,596.86 133.73,596.98 135.77,597.02 137.82,597.16 139.86,597.03 141.91,597.21 143.95,597.07 146,597.14 148.07,597.17 150.13,597.44 152.2,597.24 154.27,597.35 156.33,597.46 158.4,597.58 160.47,597.62 162.53,597.51 164.6,597.65 166.67,597.8 168.73,597.68 170.8,597.73 172.87,597.99 174.93,597.8 177,597.87 180,597.51 182.05,597.7 184.09,597.55 186.14,597.58 188.18,597.61 190.23,597.72 192.27,597.46 194.32,597.51 196.36,597.57 198.41,597.64 200.45,597.49 202.5,597.58 204.55,597.62 206.59,597.47 208.64,597.55 210.68,597.47 212.73,597.72 214.77,597.45 216.82,597.5 218.86,597.63 220.91,597.52 222.95,597.62 225,597.55 227.5,600.5" fill="none" stroke="#f550d8" stroke-width="2.8" stroke-linejoin="round"/>
<polyline points="68.2,593.5 70.25,593.87 72.3,593.88 74.35,593.97 76.4,594.07 78.45,594.37 80.5,594.66 82.55,594.81 84.6,594.98 86.65,595.08 88.7,595.42 90.75,595.38 92.8,595.62 94.85,595.96 96.9,596.07 98.95,596.11 101,596.42 103.05,596.45 105.09,596.3 107.14,596.38 109.18,596.57 111.23,596.45 113.27,596.49 115.32,596.6 117.36,596.46 119.41,596.57 121.45,596.9 123.5,596.65 125.55,596.91 127.59,596.63 129.64,596.8 131.68,596.92 133.73,596.88 135.77,597.17 137.82,597.22 139.86,597 141.91,596.97 143.95,597.33 146,597.32 148.07,597.26 150.13,597.13 152.2,597.16 154.27,597.49 156.33,597.54 158.4,597.51 160.47,597.51 162.53,597.54 164.6,597.63 166.67,597.7 168.73,597.83 170.8,597.81 172.87,597.83 174.93,597.84 177,598.06 180,597.77 182.05,597.47 184.09,597.71 186.14,597.66 188.18,597.49 190.23,597.45 192.27,597.73 194.32,597.46 196.36,597.45 198.41,597.44 200.45,597.73 202.5,597.55 204.55,597.4 206.59,597.51 208.64,597.61 210.68,597.59 212.73,597.46 214.77,597.74 216.82,597.68 218.86,597.51 220.91,597.53 222.95,597.5 225,597.6" fill="none" stroke="#0000ff" stroke-width="1.25" stroke-dasharray="1.3 1.6" stroke-linejoin="round" stroke-linecap="butt"/>
<polyline points="101,585.5 103.34,584.27 105.68,583.46 108.02,582.29 110.36,581.4 112.7,580.44 115.04,579.07 117.38,577.89 119.72,576.77 122.06,575.65 124.4,574.32 126.56,573.64 128.72,572.79 130.88,571.88 133.04,571.35 135.2,570.48 137.36,569.58 139.52,568.59 141.68,568.03 143.84,567.07 146,566.45 148.03,565.82 150.06,565.12 152.09,564.79 154.12,564.19 156.16,563.55 158.19,563.19 160.22,562.47 162.25,561.86 164.28,561.28 166.31,560.97 168.34,560.3 170.38,559.71 172.41,559.13 174.44,558.88 176.47,558.15 178.5,557.84 179.8,549.86 182.28,547.98 184.75,545.89 187.22,544.33 189.7,542.35 191.77,541.3 193.85,540.19 195.93,538.81 198,537.7 200.07,536.77 202.15,535.39 204.23,534.18 206.3,533.02 208.62,531.56 210.94,529.8 213.26,528.4 215.58,526.36 217.9,524.86 219.97,520.63 222.05,516.24 224.12,511.98 226.2,507.5" fill="none" stroke="#ff0000" stroke-width="1.25" stroke-dasharray="1.3 1.6" stroke-linejoin="round" stroke-linecap="butt"/>
<polyline points="101,588 103.34,587.22 105.68,586.47 108.02,585.67 110.36,584.78 112.7,583.84 115.04,582.82 117.38,581.93 119.72,580.87 122.06,579.94 124.4,579.11 126.56,578.44 128.72,577.78 130.88,577.01 133.04,576.73 135.2,575.83 137.36,575.25 139.52,574.56 141.68,574 143.84,573.45 146,572.88 148.03,572.34 150.06,572.08 152.09,571.45 154.12,571.09 156.16,570.64 158.19,570.49 160.22,569.75 162.25,569.39 164.28,569.21 166.31,568.6 168.34,568.13 170.38,567.85 172.41,567.49 174.44,567.08 176.47,566.59 178.5,566.24 179.8,556.31 182.28,554.6 184.75,553.05 187.22,551.27 189.7,549.58 191.77,548.53 193.85,547.18 195.93,545.64 198,544.36 200.07,542.85 202.15,541.48 204.23,540.34 206.3,539.18 208.62,536.99 210.94,535.3 213.26,533.6 215.58,531.44 217.9,529.83 219.97,525.58 222.05,521.65 224.12,517.55 226.2,513.3" fill="none" stroke="#ff0000" stroke-width="1.25" stroke-dasharray="1.3 1.6" stroke-linejoin="round" stroke-linecap="butt"/>
<polyline points="67.75,593.5 70.24,593.59 72.72,593.44 75.21,592.99 77.7,593.18 80.04,592.67 82.38,592.08 84.72,591.57 87.06,591.25 89.4,590.76 91.72,589.93 94.04,589.39 96.36,588.21 98.68,587.7 101,586.52 103.34,585.85 105.68,584.79 108.02,583.83 110.36,582.93 112.7,581.82 115.04,580.82 117.38,579.88 119.72,578.73 122.06,578.01 124.4,576.9 126.74,576.04 129.08,575.26 131.42,574.17 133.76,573.28 136.1,572.49 138.57,572.12 141.05,571.14 143.53,570.61 146,569.51 148.12,568.88 150.24,568.35 152.36,567.79 154.48,566.92 156.6,566.29 158.67,565.82 160.75,565.34 162.82,565.27 164.9,564.85 166.97,564.21 169.05,563.64 171.12,563.6 173.2,562.98 175.85,562.47 178.5,561.66 179.3,553.19 181.38,552.28 183.46,550.72 185.54,549.9 187.62,548.27 189.7,547.12 191.77,545.3 193.85,543.76 195.93,542.32 198,540.4 200.07,539.38 202.15,538.33 204.23,537.28 206.3,536.51 208.62,534.52 210.94,532.95 213.26,531.07 215.58,529.14 217.9,527.51 220.4,523.83 222.9,519.8 226.2,509.9" fill="none" stroke="#ff0000" stroke-width="1.7" stroke-linejoin="round"/>
<polyline points="67.75,593.5 77.7,593.1 89.4,590.8 101,586.7 112.7,582 124.4,576.8 136.1,572.7 146,569.6" fill="none" stroke="#ff0000" stroke-width="2.4" stroke-dasharray="1.0 1.6" stroke-linejoin="round" stroke-linecap="butt"/>
<line x1="68.2" y1="477.8" x2="68.2" y2="613.1" stroke="#111" stroke-width="1.8"/>
<line x1="60.4" y1="593.5" x2="68.2" y2="593.5" stroke="#111" stroke-width="1.2"/>
<text transform="translate(58.3,598.1)" font-size="12" text-anchor="end" letter-spacing="1.9" fill="#111">0</text>
<line x1="60.4" y1="564.73" x2="68.2" y2="564.73" stroke="#111" stroke-width="1.2"/>
<text transform="translate(58.3,569.33)" font-size="12" text-anchor="end" letter-spacing="1.9" fill="#111">500</text>
<line x1="60.4" y1="535.95" x2="68.2" y2="535.95" stroke="#111" stroke-width="1.2"/>
<text transform="translate(58.3,540.55)" font-size="12" text-anchor="end" letter-spacing="1.9" fill="#111">1000</text>
<line x1="60.4" y1="507.17" x2="68.2" y2="507.17" stroke="#111" stroke-width="1.2"/>
<text transform="translate(58.3,511.77)" font-size="12" text-anchor="end" letter-spacing="1.9" fill="#111">1500</text>
<line x1="60.4" y1="478.4" x2="68.2" y2="478.4" stroke="#111" stroke-width="1.2"/>
<text transform="translate(58.3,483)" font-size="12" text-anchor="end" letter-spacing="1.9" fill="#111">2000</text>
<text transform="translate(68.2,629)" font-size="12" text-anchor="middle" letter-spacing="1.9" fill="#111">480</text>
<text transform="translate(121.53,629)" font-size="12" text-anchor="middle" letter-spacing="1.9" fill="#111">1200</text>
<text transform="translate(174.86,629)" font-size="12" text-anchor="middle" letter-spacing="1.9" fill="#111">1920</text>
<text transform="translate(228.19,629)" font-size="12" text-anchor="middle" letter-spacing="1.9" fill="#111">2640</text>
<rect x="71.4" y="477.8" width="91.2" height="32.9" fill="#fff" stroke="#5a5a5a" stroke-width="1.1"/>
<path d="M95.6 493.2L114.6 493.2L121.5 486.3L131.2 486.3M95.6 493.2L114.6 493.2L121.5 500.1L131.2 500.1M95.6 493.2L124.4 493.2" fill="none" stroke="#8c8c8c" stroke-width="8.2" stroke-linecap="square" stroke-linejoin="miter"/>
<path d="M95.6 493.2L114.6 493.2L121.5 486.3L131.2 486.3M95.6 493.2L114.6 493.2L121.5 500.1L131.2 500.1M95.6 493.2L124.4 493.2" fill="none" stroke="#fff" stroke-width="6.8" stroke-linecap="square" stroke-linejoin="miter"/>
<path d="M82.2 493.2L95.6 493.2M95.6 493.2L114.6 493.2M114.6 493.2L121.5 486.3M114.6 493.2L121.5 500.1M121.5 486.3L131.2 486.3M121.5 500.1L131.2 500.1M95.6 493.2L95.6 504.7M114.6 493.2L124.4 493.2M131.2 486.3L150 486.3M131.2 500.1L150 500.1" fill="none" stroke="#333" stroke-width="0.7"/>
<polygon points="82.2,488.3 83.43,491.5 86.86,491.69 84.2,493.85 85.08,497.16 82.2,495.3 79.32,497.16 80.2,493.85 77.54,491.69 80.97,491.5" fill="#fff" stroke="#222" stroke-width="0.6"/>
<rect x="92.6" y="490.2" width="6" height="6" fill="#0000fa" stroke="#000" stroke-width="0.5"/>
<rect x="102.1" y="490.2" width="6" height="6" fill="#0000fa" stroke="#000" stroke-width="0.5"/>
<circle cx="114.6" cy="493.2" r="3" fill="#00c040" stroke="#000" stroke-width="0.5"/>
<circle cx="121.5" cy="486.3" r="3" fill="#00c040" stroke="#000" stroke-width="0.5"/>
<circle cx="121.5" cy="500.1" r="3" fill="#00c040" stroke="#000" stroke-width="0.5"/>
<rect x="121.4" y="490.2" width="6" height="6" fill="#20e0f0" stroke="#000" stroke-width="0.5"/>
<rect x="128.2" y="483.3" width="6" height="6" fill="#0000fa" stroke="#000" stroke-width="0.5"/>
<rect x="128.2" y="497.1" width="6" height="6" fill="#0000fa" stroke="#000" stroke-width="0.5"/>
<polygon points="95.6,502.2 98.6,508.2 92.6,508.2" fill="#ff0000" stroke="#000" stroke-width="0.4"/>
<circle cx="140.6" cy="486.3" r="3" fill="#ffff00" stroke="#000" stroke-width="0.5"/>
<circle cx="140.6" cy="500.1" r="3" fill="#ffff00" stroke="#000" stroke-width="0.5"/>
<polygon points="150,483.3 153,486.3 150,489.3 147,486.3" fill="#c000c8" stroke="#000" stroke-width="0.5"/>
<polygon points="150,497.1 153,500.1 150,503.1 147,500.1" fill="#c000c8" stroke="#000" stroke-width="0.5"/>
<line x1="232.3" y1="509.3" x2="232.3" y2="598" stroke="#000" stroke-width="1.3"/>
<text transform="translate(230.3,554.75) rotate(90)" font-size="14" text-anchor="middle" letter-spacing="0.85">***</text>
<rect x="290.85" y="478.4" width="108.8" height="134.5" fill="#dfebfa" stroke="none" stroke-width="1"/>
<rect x="399.65" y="478.4" width="50.4" height="134.5" fill="#fddde0" stroke="none" stroke-width="1"/>
<line x1="399.65" y1="478.4" x2="399.65" y2="612.9" stroke="#a6a6a6" stroke-width="1.2" stroke-dasharray="4 2"/>
<line x1="449.75" y1="478.4" x2="449.75" y2="612.9" stroke="#a6a6a6" stroke-width="1.2" stroke-dasharray="4 2"/>
<line x1="290.05" y1="593.5" x2="450.65" y2="593.5" stroke="#111" stroke-width="1.4"/>
<line x1="343.38" y1="593.5" x2="343.38" y2="611.3" stroke="#111" stroke-width="1.5"/>
<line x1="396.71" y1="593.5" x2="396.71" y2="611.3" stroke="#111" stroke-width="1.5"/>
<line x1="450.04" y1="593.5" x2="450.04" y2="611.3" stroke="#111" stroke-width="1.5"/>
<polyline points="290,593.5 292.06,593.71 294.12,593.82 296.19,593.8 298.25,594.11 300.31,594.02 302.38,594.34 304.44,594.54 306.5,594.6 308.56,594.74 310.62,594.86 312.69,594.92 314.75,594.96 316.81,595.17 318.88,595.28 320.94,595.56 323,595.71 325.05,595.77 327.09,595.6 329.14,595.8 331.18,595.83 333.23,595.59 335.27,595.78 337.32,595.67 339.36,595.69 341.41,595.83 343.45,595.93 345.5,595.8 347.55,595.87 349.59,595.95 351.64,596 353.68,595.9 355.73,595.94 357.77,595.92 359.82,596.04 361.86,596.26 363.91,596.05 365.95,596.25 368,596.24 370.07,596.31 372.13,596.3 374.2,596.09 376.27,596.18 378.33,596.33 380.4,596.28 382.47,596.35 384.53,596.11 386.6,596.36 388.67,596.24 390.73,596.36 392.8,596.3 394.87,596.24 396.93,596.3 399,596.16 401,595.73 403.04,595.71 405.08,595.64 407.12,595.64 409.17,595.67 411.21,595.58 413.25,595.52 415.29,595.64 417.33,595.75 419.38,595.71 421.42,595.69 423.46,595.5 425.5,595.54 427.54,595.53 429.58,595.62 431.62,595.72 433.67,595.64 435.71,595.63 437.75,595.58 439.79,595.5 441.83,595.53 443.88,595.74 445.92,595.72 447.96,595.65 450,595.6" fill="none" stroke="#d0d0d0" stroke-width="2.4" stroke-linejoin="round"/>
<polyline points="290,593.5 292.06,593.71 294.12,593.65 296.19,593.7 298.25,593.83 300.31,593.96 302.38,594.17 304.44,594.61 306.5,594.58 308.56,594.57 310.62,594.65 312.69,594.75 314.75,594.88 316.81,595.06 318.88,595.27 320.94,595.33 323,595.49 325.05,595.68 327.09,595.51 329.14,595.54 331.18,595.82 333.23,595.65 335.27,595.82 337.32,595.7 339.36,595.9 341.41,595.65 343.45,595.78 345.5,596.05 347.55,595.84 349.59,596.01 351.64,595.87 353.68,595.85 355.73,596.01 357.77,596.05 359.82,595.9 361.86,596.13 363.91,596.11 365.95,596.12 368,596.3 370.07,596.36 372.13,596.18 374.2,596.14 376.27,596.33 378.33,596.34 380.4,596.24 382.47,596.29 384.53,596.19 386.6,596.35 388.67,596.3 390.73,596.42 392.8,596.2 394.87,596.11 396.93,596.44 399,596.33 401,595.72 403.04,595.7 405.08,595.71 407.12,595.54 409.17,595.75 411.21,595.65 413.25,595.56 415.29,595.47 417.33,595.44 419.38,595.49 421.42,595.53 423.46,595.53 425.5,595.65 427.54,595.78 429.58,595.63 431.62,595.67 433.67,595.4 435.71,595.68 437.75,595.61 439.79,595.71 441.83,595.54 443.88,595.66 445.92,595.6 447.96,595.71 450,595.6" fill="none" stroke="#333" stroke-width="1.25" stroke-dasharray="1.3 1.6" stroke-linejoin="round" stroke-linecap="butt"/>
<polyline points="290,593.5 292.06,593.75 294.12,594.18 296.19,594.47 298.25,594.61 300.31,594.88 302.38,595.23 304.44,595.43 306.5,595.89 308.56,596.15 310.62,596.25 312.69,596.6 314.75,596.64 316.81,597.24 318.88,597.4 320.94,597.44 323,597.7 325.05,598.07 327.09,598.07 329.14,598.03 331.18,597.97 333.23,597.93 335.27,598.06 337.32,598.25 339.36,598.17 341.41,597.96 343.45,598.06 345.5,598.03 347.55,598.37 349.59,598.39 351.64,598.45 353.68,598.28 355.73,598.26 357.77,598.19 359.82,598.29 361.86,598.36 363.91,598.4 365.95,598.41 368,598.59 370.07,598.65 372.13,598.46 374.2,598.65 376.27,598.44 378.33,598.44 380.4,598.66 382.47,598.38 384.53,598.38 386.6,598.76 388.67,598.56 390.73,598.54 392.8,598.69 394.87,598.74 396.93,598.54 399,598.6" fill="none" stroke="#2020a0" stroke-width="1.25" stroke-dasharray="1.3 1.6" stroke-linejoin="round" stroke-linecap="butt"/>
<polyline points="290,593.5 292.06,594.06 294.12,594.33 296.19,595.02 298.25,595.35 300.31,595.81 302.38,596.17 304.44,596.65 306.5,597.22 308.56,597.6 310.62,598.24 312.69,598.81 314.75,599.06 316.81,599.67 318.88,600.09 320.94,600.57 323,601.08 325.05,601.05 327.09,601.22 329.14,601.07 331.18,601.29 333.23,601.3 335.27,601.26 337.32,601.33 339.36,601.61 341.41,601.57 343.45,601.59 345.5,601.65 347.55,601.81 349.59,601.81 351.64,601.74 353.68,602.02 355.73,602.05 357.77,602.09 359.82,602.13 361.86,602.17 363.91,602.13 365.95,602.38 368,602.36 370.07,602.23 372.13,602.46 374.2,602.38 376.27,602.3 378.33,602.58 380.4,602.42 382.47,602.51 384.53,602.45 386.6,602.61 388.67,602.64 390.73,602.76 392.8,602.84 394.87,602.85 396.93,602.82 399,602.8" fill="none" stroke="#00c000" stroke-width="1" stroke-dasharray="1.2 1.8" stroke-linejoin="round"/>
<polyline points="401,593.6 403.04,593.53 405.09,593.71 407.13,593.4 409.17,593.4 411.22,593.47 413.26,593.36 415.3,593.41 417.35,593.2 419.39,593.22 421.43,593.1 423.48,593.24 425.52,593.13 427.57,593.33 429.61,593.08 431.65,593.02 433.7,593.2 435.74,592.96 437.78,593.19 439.83,593.03 441.87,592.85 443.91,593.04 445.96,593.13 448,592.9" fill="none" stroke="#00c000" stroke-width="1.25" stroke-dasharray="1.3 1.6" stroke-linejoin="round" stroke-linecap="butt"/>
<polyline points="401,598.6 403.04,598.48 405.09,598.63 407.13,598.63 409.17,598.87 411.22,598.89 413.26,598.34 415.3,598.53 417.35,598.78 419.39,598.55 421.43,598.61 423.48,598.64 425.52,598.31 427.57,598.32 429.61,598.84 431.65,598.54 433.7,598.57 435.74,598.64 437.78,598.75 439.83,598.84 441.87,598.35 443.91,598.68 445.96,598.3 448,598.6" fill="none" stroke="#0000ff" stroke-width="1.6" stroke-linejoin="round"/>
<polyline points="290,593.5 292.43,594.39 294.85,595.34 297.27,596.12 299.7,596.96 301.82,597.27 303.94,597.39 306.05,597.62 308.17,597.67 310.29,597.76 312.41,598.04 314.53,598.14 316.65,598.16 318.76,598.36 320.88,598.77 323,598.84 325.05,598.72 327.09,599 329.14,599.07 331.18,598.92 333.23,599.26 335.27,599.08 337.32,599.25 339.36,599.37 341.41,599.37 343.45,599.39 345.5,599.49 347.55,599.6 349.59,599.76 351.64,599.81 353.68,599.9 355.73,599.91 357.77,599.87 359.82,599.9 361.86,600.13 363.91,600.2 365.95,600.08 368,600.29 370.07,600.19 372.13,600.15 374.2,600.31 376.27,600.48 378.33,600.41 380.4,600.53 382.47,600.58 384.53,600.61 386.6,600.5 388.67,600.72 390.73,600.52 392.8,600.68 394.87,600.6 396.93,600.72 399,600.92 401,596.89 403.04,596.92 405.09,596.77 407.13,596.73 409.17,596.6 411.22,596.67 413.26,596.77 415.3,596.57 417.35,596.7 419.39,596.51 421.43,596.63 423.48,596.42 425.52,596.63 427.57,596.35 429.61,596.31 431.65,596.43 433.7,596.47 435.74,596.42 437.78,596.3 439.83,596.37 441.87,596.19 443.91,596.2 445.96,596.16 448,596.2" fill="none" stroke="#f550d8" stroke-width="2.4" stroke-linejoin="round"/>
<polyline points="334.7,589.5 337.04,588.37 339.38,587.28 341.72,586.33 344.06,585.44 346.4,584.44 348.56,583.57 350.72,582.92 352.88,582.05 355.04,581.48 357.2,580.41 359.36,579.95 361.52,579.24 363.68,578.35 365.84,577.61 368,576.99 370.12,576 372.24,575.32 374.36,574.82 376.48,574.25 378.6,573.51 380.72,572.85 382.84,572.19 384.96,571.56 387.08,571.09 389.2,570.13 391.32,569.72 393.44,568.86 395.56,568.52 397.68,567.64 399.8,567.22 400.5,559.63 402.74,558.09 404.98,556.38 407.22,554.9 409.46,553.05 411.7,551.4 413.92,549.88 416.13,548.27 418.35,547.03 420.57,545.27 422.78,543.68 425,542.18 427.2,540.59 429.4,538.86 431.6,536.94 433.8,535.28 436,533.19 438.2,531.65 440.5,526.83 442.8,521.84 445.1,517.01 447.4,512.4" fill="none" stroke="#ff0000" stroke-width="1.25" stroke-dasharray="1.3 1.6" stroke-linejoin="round" stroke-linecap="butt"/>
<polyline points="334.7,591.2 337.04,590.51 339.38,589.85 341.72,589.22 344.06,588.65 346.4,587.79 348.56,587.1 350.72,586.43 352.88,585.66 355.04,585.08 357.2,584.44 359.36,583.61 361.52,582.85 363.68,582.39 365.84,581.43 368,581.04 370.12,580.37 372.24,579.63 374.36,578.96 376.48,578.72 378.6,577.81 380.72,577.84 382.84,577.49 384.96,577.3 387.08,576.84 389.2,576.79 391.32,576.34 393.44,576.22 395.56,576.11 397.68,575.7 399.8,575.26 400.5,566.2 402.74,564.6 404.98,563.11 407.22,561.44 409.46,559.62 411.7,558.03 413.92,556.29 416.13,554.7 418.35,552.98 420.57,551.58 422.78,549.7 425,548.03 427.2,546.48 429.4,544.65 431.6,542.94 433.8,541.41 436,539.9 438.2,538.05 440.5,535.11 442.8,532.22 445.1,529.44 447.4,526.5" fill="none" stroke="#ff0000" stroke-width="1.25" stroke-dasharray="1.3 1.6" stroke-linejoin="round" stroke-linecap="butt"/>
<polyline points="289.75,593.5 292.24,593.51 294.73,593.77 297.21,593.88 299.7,593.77 302.04,593.85 304.38,594.04 306.72,593.68 309.06,593.89 311.4,593.49 313.72,593.47 316.04,593.22 318.36,593.12 320.68,592.57 323,592.41 325.34,592.07 327.68,591.85 330.02,591.16 332.36,590.86 334.7,590.22 337.04,589.62 339.38,588.35 341.72,587.92 344.06,586.8 346.4,585.96 348.74,585.29 351.08,584.42 353.42,583.89 355.76,583.04 358.1,582.11 360.58,581 363.05,580.12 365.52,579.35 368,578.41 370.12,577.74 372.24,577.11 374.36,576.52 376.48,575.92 378.6,575.21 380.68,574.83 382.75,574.68 384.82,574.14 386.9,573.56 388.98,573.25 391.05,572.77 393.12,571.87 395.2,571.37 397.5,570.92 399.8,570.42 400.5,564.05 402.74,561.74 404.98,560.26 407.22,558.49 409.46,556.4 411.7,554.83 413.7,553.72 415.7,552.18 417.7,551.3 419.7,550.05 421.7,549.04 425,544.62 427.2,543.21 429.4,541.22 431.6,539.57 433.8,538.1 436,536.39 438.2,534.77 440.7,532.16 443.2,530.05 445.3,524.81 447.4,519.9" fill="none" stroke="#ff0000" stroke-width="1.7" stroke-linejoin="round"/>
<polyline points="289.75,593.5 299.7,594 311.4,593.7 323,592.6 334.7,590.2 346.4,586.1 358.1,582" fill="none" stroke="#ff0000" stroke-width="2.4" stroke-dasharray="1.0 1.6" stroke-linejoin="round" stroke-linecap="butt"/>
<line x1="290.05" y1="477.8" x2="290.05" y2="613.1" stroke="#111" stroke-width="1.8"/>
<line x1="282.25" y1="593.5" x2="290.05" y2="593.5" stroke="#111" stroke-width="1.2"/>
<text transform="translate(280.15,598.1)" font-size="12" text-anchor="end" letter-spacing="1.9" fill="#111">0</text>
<line x1="282.25" y1="564.73" x2="290.05" y2="564.73" stroke="#111" stroke-width="1.2"/>
<text transform="translate(280.15,569.33)" font-size="12" text-anchor="end" letter-spacing="1.9" fill="#111">500</text>
<line x1="282.25" y1="535.95" x2="290.05" y2="535.95" stroke="#111" stroke-width="1.2"/>
<text transform="translate(280.15,540.55)" font-size="12" text-anchor="end" letter-spacing="1.9" fill="#111">1000</text>
<line x1="282.25" y1="507.17" x2="290.05" y2="507.17" stroke="#111" stroke-width="1.2"/>
<text transform="translate(280.15,511.77)" font-size="12" text-anchor="end" letter-spacing="1.9" fill="#111">1500</text>
<line x1="282.25" y1="478.4" x2="290.05" y2="478.4" stroke="#111" stroke-width="1.2"/>
<text transform="translate(280.15,483)" font-size="12" text-anchor="end" letter-spacing="1.9" fill="#111">2000</text>
<text transform="translate(290.05,629)" font-size="12" text-anchor="middle" letter-spacing="1.9" fill="#111">480</text>
<text transform="translate(343.38,629)" font-size="12" text-anchor="middle" letter-spacing="1.9" fill="#111">1200</text>
<text transform="translate(396.71,629)" font-size="12" text-anchor="middle" letter-spacing="1.9" fill="#111">1920</text>
<text transform="translate(450.04,629)" font-size="12" text-anchor="middle" letter-spacing="1.9" fill="#111">2640</text>
<rect x="293.6" y="477.8" width="92" height="32.9" fill="#fff" stroke="#5a5a5a" stroke-width="1.1"/>
<path d="M317.8 493.2L336.8 493.2L343.7 486.3L353.4 486.3M317.8 493.2L336.8 493.2L343.7 500.1L353.4 500.1M317.8 493.2L346.6 493.2" fill="none" stroke="#8c8c8c" stroke-width="8.2" stroke-linecap="square" stroke-linejoin="miter"/>
<path d="M317.8 493.2L336.8 493.2L343.7 486.3L353.4 486.3M317.8 493.2L336.8 493.2L343.7 500.1L353.4 500.1M317.8 493.2L346.6 493.2" fill="none" stroke="#fff" stroke-width="6.8" stroke-linecap="square" stroke-linejoin="miter"/>
<path d="M304.4 493.2L317.8 493.2M317.8 493.2L336.8 493.2M336.8 493.2L343.7 486.3M336.8 493.2L343.7 500.1M343.7 486.3L353.4 486.3M343.7 500.1L353.4 500.1M336.8 493.2L346.6 493.2M353.4 486.3L372.2 486.3M353.4 500.1L372.2 500.1" fill="none" stroke="#333" stroke-width="0.7"/>
<polygon points="304.4,488.3 305.63,491.5 309.06,491.69 306.4,493.85 307.28,497.16 304.4,495.3 301.52,497.16 302.4,493.85 299.74,491.69 303.17,491.5" fill="#fff" stroke="#222" stroke-width="0.6"/>
<rect x="314.8" y="490.2" width="6" height="6" fill="#0000fa" stroke="#000" stroke-width="0.5"/>
<rect x="324.3" y="490.2" width="6" height="6" fill="#0000fa" stroke="#000" stroke-width="0.5"/>
<circle cx="336.8" cy="493.2" r="3" fill="#00c040" stroke="#000" stroke-width="0.5"/>
<circle cx="343.7" cy="486.3" r="3" fill="#00c040" stroke="#000" stroke-width="0.5"/>
<circle cx="343.7" cy="500.1" r="3" fill="#00c040" stroke="#000" stroke-width="0.5"/>
<rect x="343.6" y="490.2" width="6" height="6" fill="#20e0f0" stroke="#000" stroke-width="0.5"/>
<rect x="350.4" y="483.3" width="6" height="6" fill="#0000fa" stroke="#000" stroke-width="0.5"/>
<rect x="350.4" y="497.1" width="6" height="6" fill="#0000fa" stroke="#000" stroke-width="0.5"/>
<circle cx="362.8" cy="486.3" r="3" fill="#ffff00" stroke="#000" stroke-width="0.5"/>
<circle cx="362.8" cy="500.1" r="3" fill="#ffff00" stroke="#000" stroke-width="0.5"/>
<polygon points="372.2,483.3 375.2,486.3 372.2,489.3 369.2,486.3" fill="#c000c8" stroke="#000" stroke-width="0.5"/>
<polygon points="372.2,497.1 375.2,500.1 372.2,503.1 369.2,500.1" fill="#c000c8" stroke="#000" stroke-width="0.5"/>
<line x1="453.8" y1="513" x2="453.8" y2="596.5" stroke="#000" stroke-width="1.3"/>
<text transform="translate(451.8,555.85) rotate(90)" font-size="14" text-anchor="middle" letter-spacing="0.85">***</text>
<rect x="511.8" y="478.4" width="108.8" height="134.5" fill="#dfebfa" stroke="none" stroke-width="1"/>
<rect x="620.6" y="478.4" width="50.4" height="134.5" fill="#fddde0" stroke="none" stroke-width="1"/>
<line x1="620.6" y1="478.4" x2="620.6" y2="612.9" stroke="#a6a6a6" stroke-width="1.2" stroke-dasharray="4 2"/>
<line x1="670.7" y1="478.4" x2="670.7" y2="612.9" stroke="#a6a6a6" stroke-width="1.2" stroke-dasharray="4 2"/>
<line x1="511" y1="593.5" x2="671.6" y2="593.5" stroke="#111" stroke-width="1.4"/>
<line x1="564.33" y1="593.5" x2="564.33" y2="611.3" stroke="#111" stroke-width="1.5"/>
<line x1="617.66" y1="593.5" x2="617.66" y2="611.3" stroke="#111" stroke-width="1.5"/>
<line x1="670.99" y1="593.5" x2="670.99" y2="611.3" stroke="#111" stroke-width="1.5"/>
<polyline points="511,593.5 513.07,593.49 515.14,593.44 517.21,593.59 519.29,593.37 521.36,593.59 523.43,593.36 525.5,593.56 527.57,593.42 529.64,593.47 531.71,593.35 533.79,593.52 535.86,593.33 537.93,593.49 540,593.45 542,593.52 544,593.55 546,593.49 548,593.3 550,593.49 552,593.28 554,593.49 556,593.53 558,593.29 560,593.26 562,593.49 564,593.36 566,593.45 568,593.5 570,593.53 572,593.41 574,593.5 576,593.52 578,593.48 580,593.36 582,593.52 584,593.38 586,593.52 588,593.36 590,593.4 592,593.26 594,593.28 596,593.53 598,593.39 600,593.47 602,593.4 604,593.48 606,593.42 608,593.32 610,593.37 612,593.47 614,593.34 616,593.58 618,593.32 620,593.48 622,593.57 624,593.54 626,593.37 628,593.36 630,593.55 632,593.46 634,593.38 636,593.39 638,593.56 640,593.37 642,593.46 644,593.66 646,593.46 648,593.64 650,593.4 652,593.46 654,593.42 656,593.63 658,593.59 660,593.65 662,593.67 664,593.65 666,593.47 668,593.58 670,593.6" fill="none" stroke="#0000ff" stroke-width="3" stroke-linejoin="round"/>
<polyline points="511,593.5 513.07,593.24 515.14,593.35 517.21,593.1 519.29,593 521.36,593.01 523.43,592.92 525.5,592.68 527.57,592.49 529.64,592.52 531.71,592.39 533.79,592.08 535.86,592.03 537.93,592.06 540,591.95 542,591.92 544,591.8 546,591.7 548,591.92 550,591.71 552,591.83 554,591.77 556,591.9 558,591.76 560,591.76 562,591.9 564,591.87 566,591.95 568,591.69 570,591.69 572,591.85 574,591.8 576,591.92 578,591.79 580,591.66 582,591.79 584,591.72 586,591.89 588,591.89 590,591.91 592,591.68 594,591.82 596,591.71 598,591.94 600,591.69 602,591.85 604,591.88 606,591.73 608,591.85 610,591.72 612,591.7 614,591.78 616,591.72 618,591.83 620,591.91 622,591.99 624,591.8 626,591.87 628,591.94 630,591.83 632,591.83 634,591.86 636,592 638,591.87 640,591.99 642,591.81 644,591.87 646,591.87 648,591.86 650,591.84 652,591.92 654,592.05 656,592.01 658,592.11 660,591.92 662,591.92 664,591.91 666,591.99 668,591.88 670,592" fill="none" stroke="#0000ff" stroke-width="1.25" stroke-dasharray="1.3 1.6" stroke-linejoin="round" stroke-linecap="butt"/>
<polyline points="511,593.5 513.07,594.01 515.14,594.26 517.21,594.5 519.29,595.07 521.36,595.44 523.43,595.73 525.5,596.17 527.57,596.71 529.64,597.24 531.71,597.47 533.79,597.72 535.86,598.03 537.93,598.54 540,598.9 542.08,599.03 544.15,599.1 546.23,599.1 548.31,599.11 550.38,599.48 552.46,599.55 554.54,599.52 556.62,599.66 558.69,599.58 560.77,599.71 562.85,599.65 564.92,599.8 567,599.94 569.04,599.91 571.08,599.96 573.12,599.91 575.15,599.83 577.19,600.04 579.23,600.1 581.27,599.86 583.31,599.85 585.35,599.81 587.38,599.93 589.42,599.93 591.46,599.96 593.5,599.97 595.54,600.05 597.58,600.01 599.62,600.35 601.65,600.02 603.69,600.02 605.73,600.41 607.77,600.21 609.81,600.38 611.85,600.24 613.88,600.14 615.92,600.17 617.96,600.55 620,600.22 622,600.2 624,599.95 626,599.92 628,599.63 630,599.62 632,599.21 634,599.16 636,599.15 638,598.79 640,598.78 642,598.28 644,598.47 646,598.14 648,598.24 650,597.98 652,597.66 654,597.73 656,597.35 658,597.35 660,597.3 662,596.93 664,596.74 666,596.92 668,596.52 670,596.5" fill="none" stroke="#00c000" stroke-width="1.25" stroke-dasharray="1.3 1.6" stroke-linejoin="round" stroke-linecap="butt"/>
<polyline points="511,593.5 513.11,593.94 515.22,594.22 517.33,594.51 519.44,595.07 521.56,595.29 523.67,595.63 525.78,596.19 527.89,596.58 530,596.75 532.06,596.99 534.11,596.77 536.17,597.02 538.22,597 540.28,596.95 542.33,597.04 544.39,597.06 546.44,597.21 548.5,597.18 550.56,597.22 552.61,597.34 554.67,597.29 556.72,597.25 558.78,597.42 560.83,597.58 562.89,597.43 564.94,597.49 567,597.72 569.04,597.51 571.08,597.75 573.12,597.56 575.15,597.54 577.19,597.71 579.23,597.76 581.27,597.64 583.31,597.59 585.35,597.56 587.38,597.53 589.42,597.75 591.46,597.76 593.5,597.64 595.54,597.7 597.58,597.79 599.62,597.78 601.65,597.79 603.69,597.86 605.73,597.67 607.77,597.9 609.81,597.8 611.85,597.71 613.88,597.83 615.92,597.73 617.96,597.77 620,597.9 622,597.83 624,597.71 626,597.71 628,597.67 630,597.47 632,597.31 634,597.51 636,597.19 638,597.24 640,597.08 642,597.17 644,597.2 646,596.94 648,597.04 650,596.97 652,597.01 654,597.04 656,596.93 658,596.71 660,596.76 662,596.75 664,596.62 666,596.79 668,596.6 670,596.6" fill="none" stroke="#f550d8" stroke-width="2" stroke-linejoin="round"/>
<polyline points="511,593.5 513.11,593.64 515.22,593.77 517.33,594.04 519.44,594.3 521.56,594.27 523.67,594.57 525.78,594.68 527.89,594.79 530,595.07 532.06,595.19 534.11,595.22 536.17,595.38 538.22,595.34 540.28,595.45 542.33,595.43 544.39,595.47 546.44,595.58 548.5,595.61 550.56,595.62 552.61,595.54 554.67,595.57 556.72,595.79 558.78,595.58 560.83,595.73 562.89,595.91 564.94,595.79 567,595.9 569.04,595.86 571.08,595.96 573.12,596.02 575.15,595.8 577.19,595.91 579.23,596.05 581.27,595.93 583.31,596.1 585.35,595.9 587.38,595.98 589.42,595.89 591.46,596.1 593.5,595.99 595.54,596.11 597.58,596.07 599.62,595.95 601.65,596.14 603.69,595.91 605.73,596.17 607.77,596.14 609.81,595.99 611.85,596.09 613.88,596.03 615.92,596.08 617.96,596.23 620,596.09 622,596.06 624,595.84 626,595.79 628,595.85 630,595.78 632,595.87 634,595.7 636,595.74 638,595.58 640,595.63 642,595.41 644,595.28 646,595.46 648,595.39 650,595.21 652,595.17 654,595.21 656,595.3 658,595.19 660,595.08 662,595.08 664,594.97 666,594.95 668,594.84 670,594.9" fill="none" stroke="#f550d8" stroke-width="1.25" stroke-dasharray="1.3 1.6" stroke-linejoin="round" stroke-linecap="butt"/>
<polyline points="520.7,587.2 523.04,586.12 525.38,584.69 527.72,583.73 530.06,582.4 532.4,581.26 534.72,580.32 537.04,579.19 539.36,577.86 541.68,576.87 544,575.58 546.34,574.12 548.68,572.74 551.02,571.1 553.36,569.74 555.7,568.6 558.04,567.29 560.38,566.37 562.72,564.92 565.06,563.77 567.4,562.58 569.63,561.73 571.86,560.43 574.09,559.17 576.31,557.95 578.54,557.02 580.77,555.65 583,554.84 585.09,553.51 587.19,552.69 589.28,551.68 591.38,550.39 593.47,549.46 595.57,548.44 597.66,547.29 599.76,546.22 601.85,545.35 603.94,544.05 606.04,543.12 608.13,541.84 610.23,541.01 612.32,540.11 614.42,538.82 616.51,537.91 618.61,536.69 620.7,535.65 622.73,534.17 624.76,532.88 626.79,531.17 628.81,529.58 630.84,528.29 632.87,526.82 634.9,525.34 637.06,523.66 639.23,521.97 641.39,520.51 643.55,518.7 645.71,517.08 647.88,515.42 650.04,513.75 652.2,512.18 654.36,510.97 656.53,509.46 658.69,508.08 660.85,506.59 663.01,505.2 665.17,503.97 667.34,502.68 669.5,501.1" fill="none" stroke="#ff0000" stroke-width="1.25" stroke-dasharray="1.3 1.6" stroke-linejoin="round" stroke-linecap="butt"/>
<polyline points="532.4,584.3 534.72,583.58 537.04,583.22 539.36,582.74 541.68,582 544,581.56 546.34,580.33 548.68,579.63 551.02,578.42 553.36,577.53 555.7,576.54 558.04,575.68 560.38,575.16 562.72,574.18 565.06,573.37 567.4,572.69 569.63,571.67 571.86,571.09 574.09,569.99 576.31,569.48 578.54,568.61 580.77,567.63 583,566.97 585.09,566.17 587.19,565.45 589.28,564.42 591.38,563.7 593.47,562.89 595.57,562.18 597.66,561.46 599.76,560.81 601.85,559.83 603.94,559.16 606.04,558.28 608.13,557.58 610.23,556.65 612.32,556.08 614.42,555.35 616.51,554.57 618.61,553.91 620.7,553.01 622.73,551.67 624.76,550.69 626.79,549.23 628.81,547.91 630.84,546.79 632.87,545.62 634.9,544.21 637.06,542.89 639.23,541.53 641.39,540.42 643.55,539.05 645.71,537.92 647.88,536.36 650.04,535.24 652.2,533.76 654.36,532.7 656.53,531.6 658.69,530.73 660.85,529.69 663.01,528.5 665.17,527.58 667.34,526.5 669.5,525.3" fill="none" stroke="#ff0000" stroke-width="1.25" stroke-dasharray="1.3 1.6" stroke-linejoin="round" stroke-linecap="butt"/>
<polyline points="510.75,593.6 513.24,592.48 515.73,591.07 518.21,589.67 520.7,588.36 523.04,587.49 525.38,586.18 527.72,585.09 530.06,584.41 532.4,583.32 534.72,582.26 537.04,581.43 539.36,580.12 541.68,579.56 544,578.55 546.34,577.46 548.68,576.51 551.02,575.77 553.36,574.95 555.7,573.92 558.04,572.51 560.38,571.72 562.72,570.54 565.06,569.42 567.4,568.28 569.74,567.38 572.08,566.06 574.42,564.94 576.76,563.86 579.1,562.9 583,560.69 585.16,559.96 587.33,559.12 589.49,558.3 591.65,557.47 593.81,556.29 595.97,555.73 598.14,554.46 600.3,553.78 602.46,553.06 604.62,552.27 606.79,551.14 608.95,550.44 611.11,549.59 613.27,548.4 615.44,547.89 617.6,547.07 620.7,544.12 621.9,536.41 624.1,534.32 626.3,532.42 628.45,531.55 630.6,530.29 632.75,529.52 634.9,528.51 637.08,527.2 639.25,526.01 641.42,525.09 643.6,523.8 646.2,521.25 648.8,519.26 651.1,518.4 653.4,517.44 655.7,516.77 658,515.83 660.3,515.35 662.6,514.71 664.9,514.54 667.2,513.92 669.5,513.2" fill="none" stroke="#ff0000" stroke-width="1.7" stroke-linejoin="round"/>
<polyline points="510.75,593.6 520.7,588.4 532.4,583.1 544,578.5 555.7,573.8" fill="none" stroke="#ff0000" stroke-width="2.4" stroke-dasharray="1.0 1.6" stroke-linejoin="round" stroke-linecap="butt"/>
<line x1="511" y1="477.8" x2="511" y2="613.1" stroke="#111" stroke-width="1.8"/>
<line x1="503.2" y1="593.5" x2="511" y2="593.5" stroke="#111" stroke-width="1.2"/>
<text transform="translate(501.1,598.1)" font-size="12" text-anchor="end" letter-spacing="1.9" fill="#111">0</text>
<line x1="503.2" y1="564.73" x2="511" y2="564.73" stroke="#111" stroke-width="1.2"/>
<text transform="translate(501.1,569.33)" font-size="12" text-anchor="end" letter-spacing="1.9" fill="#111">500</text>
<line x1="503.2" y1="535.95" x2="511" y2="535.95" stroke="#111" stroke-width="1.2"/>
<text transform="translate(501.1,540.55)" font-size="12" text-anchor="end" letter-spacing="1.9" fill="#111">1000</text>
<line x1="503.2" y1="507.17" x2="511" y2="507.17" stroke="#111" stroke-width="1.2"/>
<text transform="translate(501.1,511.77)" font-size="12" text-anchor="end" letter-spacing="1.9" fill="#111">1500</text>
<line x1="503.2" y1="478.4" x2="511" y2="478.4" stroke="#111" stroke-width="1.2"/>
<text transform="translate(501.1,483)" font-size="12" text-anchor="end" letter-spacing="1.9" fill="#111">2000</text>
<text transform="translate(511,629)" font-size="12" text-anchor="middle" letter-spacing="1.9" fill="#111">480</text>
<text transform="translate(564.33,629)" font-size="12" text-anchor="middle" letter-spacing="1.9" fill="#111">1200</text>
<text transform="translate(617.66,629)" font-size="12" text-anchor="middle" letter-spacing="1.9" fill="#111">1920</text>
<text transform="translate(670.99,629)" font-size="12" text-anchor="middle" letter-spacing="1.9" fill="#111">2640</text>
<rect x="514.4" y="477.5" width="92.2" height="65.9" fill="#fff" stroke="#5a5a5a" stroke-width="1.1"/>
<path d="M538.6 492.4L557.6 492.4L564.5 485.5L574.2 485.5M538.6 492.4L557.6 492.4L564.5 499.3L574.2 499.3" fill="none" stroke="#8c8c8c" stroke-width="8.2" stroke-linecap="square" stroke-linejoin="miter"/>
<path d="M538.6 492.4L557.6 492.4L564.5 485.5L574.2 485.5M538.6 492.4L557.6 492.4L564.5 499.3L574.2 499.3" fill="none" stroke="#fff" stroke-width="6.8" stroke-linecap="square" stroke-linejoin="miter"/>
<path d="M525.2 492.4L538.6 492.4M538.6 492.4L557.6 492.4M557.6 492.4L564.5 485.5M557.6 492.4L564.5 499.3M564.5 485.5L574.2 485.5M564.5 499.3L574.2 499.3M538.6 492.4L538.6 503.9M574.2 485.5L578.4 485.5M574.2 499.3L578.4 499.3M578.4 485.5L578.4 499.3M578.4 492.4L583.6 492.4" fill="none" stroke="#333" stroke-width="0.7"/>
<line x1="578.6" y1="484.5" x2="578.6" y2="500.3" stroke="#999" stroke-width="1.2"/>
<polygon points="525.2,487.5 526.43,490.7 529.86,490.89 527.2,493.05 528.08,496.36 525.2,494.5 522.32,496.36 523.2,493.05 520.54,490.89 523.97,490.7" fill="#fff" stroke="#222" stroke-width="0.6"/>
<rect x="535.6" y="489.4" width="6" height="6" fill="#0000fa" stroke="#000" stroke-width="0.5"/>
<rect x="545.1" y="489.4" width="6" height="6" fill="#0000fa" stroke="#000" stroke-width="0.5"/>
<circle cx="557.6" cy="492.4" r="3" fill="#00c040" stroke="#000" stroke-width="0.5"/>
<circle cx="564.5" cy="485.5" r="3" fill="#00c040" stroke="#000" stroke-width="0.5"/>
<circle cx="564.5" cy="499.3" r="3" fill="#00c040" stroke="#000" stroke-width="0.5"/>
<rect x="571.2" y="482.5" width="6" height="6" fill="#0000fa" stroke="#000" stroke-width="0.5"/>
<rect x="571.2" y="496.3" width="6" height="6" fill="#0000fa" stroke="#000" stroke-width="0.5"/>
<polygon points="538.6,501.4 541.6,507.4 535.6,507.4" fill="#ff0000" stroke="#000" stroke-width="0.4"/>
<circle cx="583.6" cy="492.4" r="3" fill="#ffff00" stroke="#000" stroke-width="0.5"/>
<path d="M538.6 525.6L557.6 525.6L564.5 518.7L574.2 518.7M538.6 525.6L557.6 525.6L564.5 532.5L574.2 532.5M538.6 525.6L567.4 525.6" fill="none" stroke="#8c8c8c" stroke-width="8.2" stroke-linecap="square" stroke-linejoin="miter"/>
<path d="M538.6 525.6L557.6 525.6L564.5 518.7L574.2 518.7M538.6 525.6L557.6 525.6L564.5 532.5L574.2 532.5M538.6 525.6L567.4 525.6" fill="none" stroke="#fff" stroke-width="6.8" stroke-linecap="square" stroke-linejoin="miter"/>
<path d="M525.2 525.6L538.6 525.6M538.6 525.6L557.6 525.6M557.6 525.6L564.5 518.7M557.6 525.6L564.5 532.5M564.5 518.7L574.2 518.7M564.5 532.5L574.2 532.5M538.6 525.6L538.6 537.1M557.6 525.6L567.4 525.6M574.2 518.7L593 518.7M574.2 532.5L593 532.5" fill="none" stroke="#333" stroke-width="0.7"/>
<polygon points="525.2,520.7 526.43,523.9 529.86,524.09 527.2,526.25 528.08,529.56 525.2,527.7 522.32,529.56 523.2,526.25 520.54,524.09 523.97,523.9" fill="#f8b000" stroke="#222" stroke-width="0.6"/>
<rect x="535.6" y="522.6" width="6" height="6" fill="#0000fa" stroke="#000" stroke-width="0.5"/>
<rect x="545.1" y="522.6" width="6" height="6" fill="#0000fa" stroke="#000" stroke-width="0.5"/>
<circle cx="557.6" cy="525.6" r="3" fill="#00c040" stroke="#000" stroke-width="0.5"/>
<circle cx="564.5" cy="518.7" r="3" fill="#00c040" stroke="#000" stroke-width="0.5"/>
<circle cx="564.5" cy="532.5" r="3" fill="#00c040" stroke="#000" stroke-width="0.5"/>
<rect x="564.4" y="522.6" width="6" height="6" fill="#20e0f0" stroke="#000" stroke-width="0.5"/>
<rect x="571.2" y="515.7" width="6" height="6" fill="#0000fa" stroke="#000" stroke-width="0.5"/>
<rect x="571.2" y="529.5" width="6" height="6" fill="#0000fa" stroke="#000" stroke-width="0.5"/>
<polygon points="538.6,534.6 541.6,540.6 535.6,540.6" fill="#ff0000" stroke="#000" stroke-width="0.4"/>
<circle cx="583.6" cy="518.7" r="3" fill="#ffff00" stroke="#000" stroke-width="0.5"/>
<circle cx="583.6" cy="532.5" r="3" fill="#ffff00" stroke="#000" stroke-width="0.5"/>
<polygon points="593,515.7 596,518.7 593,521.7 590,518.7" fill="#c000c8" stroke="#000" stroke-width="0.5"/>
<polygon points="593,529.5 596,532.5 593,535.5 590,532.5" fill="#c000c8" stroke="#000" stroke-width="0.5"/>
<line x1="674.6" y1="513.8" x2="674.6" y2="596.5" stroke="#000" stroke-width="1.3"/>
<text transform="translate(672.6,556.25) rotate(90)" font-size="14" text-anchor="middle" letter-spacing="0.85">***</text></svg>
</body></html>
